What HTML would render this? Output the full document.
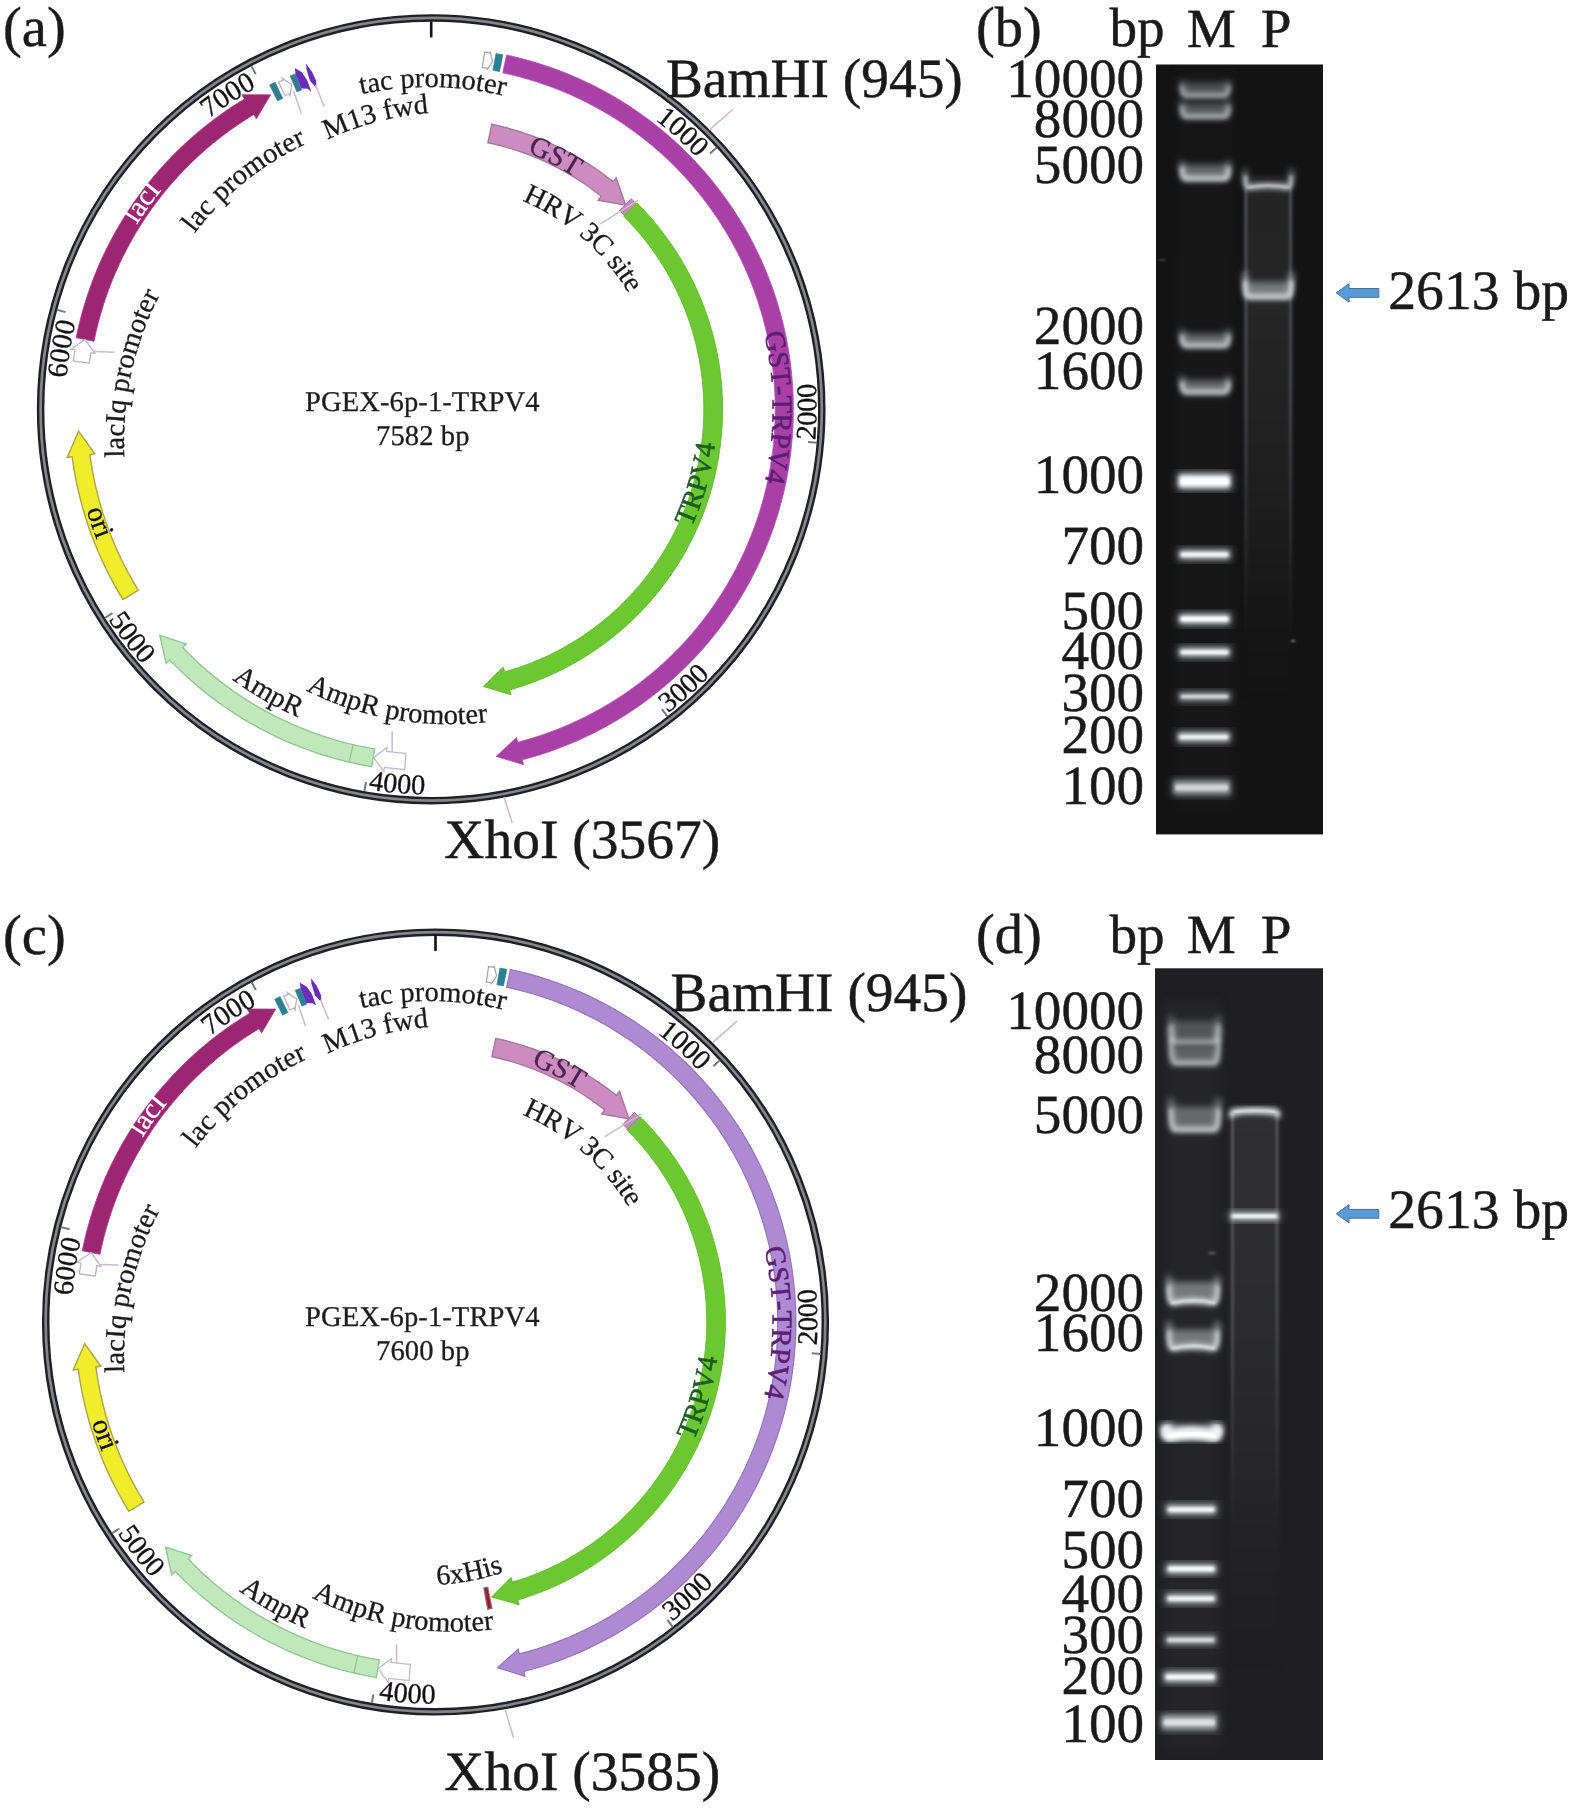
<!DOCTYPE html>
<html><head><meta charset="utf-8"><title>Figure</title>
<style>
html,body{margin:0;padding:0;background:#ffffff;}
body{width:1575px;height:1809px;overflow:hidden;}
svg{display:block;font-family:"Liberation Serif",serif;text-rendering:geometricPrecision;}
</style></head>
<body>
<svg width="1575" height="1809" viewBox="0 0 1575 1809">
<defs>
<filter color-interpolation-filters="sRGB" id="bl1" x="-20%" y="-50%" width="140%" height="200%"><feGaussianBlur stdDeviation="1.1"/></filter>
<filter color-interpolation-filters="sRGB" id="bl2" x="-20%" y="-100%" width="140%" height="300%"><feGaussianBlur stdDeviation="2"/></filter>
<filter color-interpolation-filters="sRGB" id="bl3" x="-20%" y="-100%" width="140%" height="300%"><feGaussianBlur stdDeviation="3"/></filter>
<filter color-interpolation-filters="sRGB" id="blS" x="-10%" y="-2%" width="120%" height="104%"><feGaussianBlur stdDeviation="2"/></filter>
<filter color-interpolation-filters="sRGB" id="blL" x="-200%" y="-2%" width="500%" height="104%"><feGaussianBlur stdDeviation="1.1"/></filter>
<filter color-interpolation-filters="sRGB" id="bl4" x="-30%" y="-5%" width="160%" height="110%"><feGaussianBlur stdDeviation="4.5"/></filter>
<linearGradient id="laneG" x1="0" y1="0" x2="0" y2="1">
<stop offset="0" stop-color="#a0a3a8" stop-opacity="0.34"/><stop offset="0.5" stop-color="#a0a3a8" stop-opacity="0.26"/><stop offset="1" stop-color="#a0a3a8" stop-opacity="0"/>
</linearGradient>
<linearGradient id="smearB" x1="0" y1="0" x2="0" y2="1">
<stop offset="0" stop-color="#232324"/><stop offset="0.03" stop-color="#242425"/><stop offset="0.25" stop-color="#262627"/><stop offset="0.6" stop-color="#1f1f20"/><stop offset="0.85" stop-color="#161616"/><stop offset="1" stop-color="#131313"/>
</linearGradient>
<linearGradient id="smearD" x1="0" y1="0" x2="0" y2="1">
<stop offset="0" stop-color="#2f2f31"/><stop offset="0.3" stop-color="#2d2d2f"/><stop offset="0.65" stop-color="#262628"/><stop offset="0.9" stop-color="#202022"/><stop offset="1" stop-color="#1f1f21"/>
</linearGradient>
<clipPath id="clipB"><rect x="1156" y="64.5" width="167" height="769.9"/></clipPath>
<clipPath id="clipD"><rect x="1155" y="968.3" width="168" height="791.7"/></clipPath>
</defs>
<rect x="0" y="0" width="1575" height="1809" fill="#ffffff"/>
<g opacity="0.999">
<g id="plasA"><ellipse cx="431.2" cy="409.3" rx="390.6" ry="391.38" fill="none" stroke="#202024" stroke-width="7.5"/>
<ellipse cx="431.2" cy="409.3" rx="390.6" ry="391.38" fill="none" stroke="#85868c" stroke-width="2.7"/>
<line x1="431.2" y1="21.45" x2="431.2" y2="37.45" stroke="#111" stroke-width="2.6" />
<line x1="716.7" y1="147.51" x2="710.06" y2="153.6" stroke="#77787c" stroke-width="2" />
<line x1="817.1" y1="442.8" x2="808.13" y2="442.02" stroke="#77787c" stroke-width="2" />
<line x1="667.31" y1="716.37" x2="661.83" y2="709.23" stroke="#77787c" stroke-width="2" />
<line x1="364.45" y1="790.85" x2="366" y2="781.99" stroke="#77787c" stroke-width="2" />
<line x1="104.86" y1="617.97" x2="112.44" y2="613.12" stroke="#77787c" stroke-width="2" />
<line x1="56.85" y1="309.8" x2="65.55" y2="312.11" stroke="#77787c" stroke-width="2" />
<line x1="251.54" y1="66.14" x2="255.71" y2="74.11" stroke="#77787c" stroke-width="2" />
<path d="M506.51 55.01 L515.69 57.09 L524.82 59.41 L533.88 61.96 L542.87 64.75 L551.79 67.77 L560.63 71.02 L569.38 74.49 L578.04 78.2 L586.59 82.13 L595.05 86.28 L603.39 90.65 L611.61 95.23 L619.72 100.03 L627.69 105.03 L635.53 110.24 L643.24 115.65 L650.8 121.26 L658.21 127.07 L665.47 133.07 L672.57 139.25 L679.51 145.62 L686.28 152.16 L692.88 158.88 L699.3 165.76 L705.54 172.82 L711.6 180.03 L717.46 187.39 L723.13 194.91 L728.61 202.57 L733.88 210.37 L738.95 218.31 L743.81 226.37 L748.46 234.56 L752.9 242.86 L757.11 251.28 L761.11 259.81 L764.89 268.43 L768.43 277.16 L771.76 285.97 L774.85 294.86 L777.7 303.83 L780.33 312.88 L782.72 321.98 L784.87 331.15 L786.78 340.37 L788.45 349.64 L789.88 358.94 L791.07 368.28 L792.01 377.65 L792.72 387.04 L793.17 396.45 L793.38 405.86 L793.35 415.28 L793.07 424.69 L792.55 434.09 L791.78 443.48 L790.77 452.84 L789.52 462.17 L788.03 471.47 L786.29 480.72 L784.31 489.93 L782.1 499.08 L779.64 508.17 L776.96 517.19 L774.04 526.14 L770.88 535.02 L767.5 543.8 L763.89 552.5 L760.05 561.1 L756 569.6 L751.72 577.99 L747.23 586.26 L742.52 594.42 L737.6 602.45 L732.48 610.35 L727.15 618.11 L721.62 625.73 L715.9 633.21 L709.98 640.53 L703.88 647.7 L697.59 654.71 L691.12 661.55 L684.47 668.22 L677.66 674.72 L670.68 681.04 L663.53 687.17 L656.23 693.11 L648.78 698.87 L641.18 704.43 L633.43 709.78 L625.55 714.94 L617.54 719.89 L609.41 724.63 L601.15 729.15 L592.78 733.46 L584.3 737.55 L575.71 741.42 L567.03 745.07 L558.26 748.48 L549.4 751.67 L540.46 754.63 L531.44 757.35 L522.36 759.84 L523.62 764.68 L496.07 756.39 L516.52 737.39 L517.78 742.23 L526.41 739.86 L534.97 737.28 L543.46 734.47 L551.87 731.44 L560.2 728.19 L568.45 724.73 L576.6 721.06 L584.66 717.17 L592.61 713.08 L600.45 708.78 L608.18 704.28 L615.79 699.58 L623.27 694.69 L630.62 689.6 L637.84 684.32 L644.92 678.85 L651.86 673.21 L658.64 667.38 L665.27 661.38 L671.75 655.21 L678.06 648.88 L684.2 642.38 L690.18 635.72 L695.97 628.91 L701.59 621.96 L707.03 614.86 L712.28 607.62 L717.34 600.24 L722.21 592.74 L726.88 585.11 L731.35 577.37 L735.62 569.51 L739.68 561.54 L743.53 553.47 L747.17 545.31 L750.6 537.05 L753.81 528.7 L756.81 520.27 L759.58 511.77 L762.14 503.2 L764.46 494.57 L766.57 485.88 L768.45 477.13 L770.1 468.34 L771.52 459.51 L772.71 450.65 L773.67 441.76 L774.39 432.85 L774.89 423.92 L775.15 414.98 L775.18 406.03 L774.98 397.09 L774.55 388.16 L773.88 379.24 L772.99 370.35 L771.86 361.47 L770.5 352.64 L768.91 343.83 L767.1 335.08 L765.05 326.37 L762.79 317.72 L760.29 309.13 L757.58 300.61 L754.64 292.16 L751.49 283.8 L748.12 275.51 L744.53 267.32 L740.74 259.22 L736.73 251.23 L732.52 243.34 L728.1 235.56 L723.49 227.9 L718.67 220.37 L713.66 212.96 L708.46 205.68 L703.08 198.54 L697.51 191.55 L691.76 184.7 L685.83 178 L679.73 171.46 L673.47 165.08 L667.04 158.87 L660.45 152.82 L653.7 146.95 L646.81 141.25 L639.77 135.74 L632.58 130.41 L625.27 125.27 L617.82 120.32 L610.24 115.57 L602.55 111.01 L594.74 106.66 L586.81 102.51 L578.79 98.57 L570.66 94.84 L562.44 91.32 L554.13 88.01 L545.73 84.93 L537.26 82.06 L528.72 79.41 L520.11 76.99 L511.44 74.79 L502.72 72.82Z" fill="#a840a8" stroke="#b455b4" stroke-width="0.8" stroke-linejoin="miter" />
<path d="M637.14 203.14 L642.44 208.57 L647.6 214.14 L652.61 219.85 L657.47 225.68 L662.17 231.63 L666.72 237.71 L671.11 243.9 L675.34 250.2 L679.4 256.62 L683.29 263.13 L687.01 269.75 L690.56 276.46 L693.93 283.26 L697.12 290.14 L700.14 297.11 L702.97 304.15 L705.62 311.27 L708.08 318.45 L710.35 325.69 L712.43 332.99 L714.32 340.34 L716.02 347.74 L717.53 355.18 L718.84 362.65 L719.96 370.16 L720.88 377.69 L721.61 385.25 L722.13 392.82 L722.46 400.4 L722.6 407.99 L722.53 415.58 L722.27 423.17 L721.81 430.75 L721.15 438.31 L720.3 445.85 L719.25 453.37 L718 460.85 L716.56 468.31 L714.93 475.72 L713.1 483.09 L711.09 490.4 L708.88 497.67 L706.48 504.87 L703.9 512.01 L701.13 519.07 L698.18 526.07 L695.05 532.98 L691.74 539.81 L688.25 546.55 L684.59 553.2 L680.76 559.75 L676.75 566.2 L672.58 572.54 L668.25 578.77 L663.75 584.89 L659.1 590.89 L654.3 596.76 L649.34 602.51 L644.23 608.13 L638.98 613.61 L633.59 618.95 L628.06 624.15 L622.4 629.2 L616.6 634.11 L610.69 638.86 L604.65 643.46 L598.49 647.9 L592.22 652.17 L585.84 656.28 L579.35 660.23 L572.77 664 L566.09 667.6 L559.31 671.03 L552.45 674.28 L545.51 677.34 L538.49 680.23 L531.4 682.93 L524.24 685.45 L517.01 687.78 L509.73 689.92 L511.08 694.73 L483.25 686.46 L503.32 667 L504.66 671.81 L511.48 669.81 L518.23 667.63 L524.93 665.28 L531.57 662.75 L538.13 660.05 L544.63 657.18 L551.05 654.14 L557.38 650.94 L563.63 647.57 L569.79 644.04 L575.86 640.35 L581.83 636.5 L587.7 632.5 L593.46 628.35 L599.11 624.05 L604.64 619.6 L610.06 615.02 L615.36 610.29 L620.53 605.42 L625.58 600.43 L630.49 595.3 L635.26 590.04 L639.9 584.67 L644.4 579.17 L648.75 573.56 L652.96 567.84 L657.01 562.01 L660.91 556.08 L664.66 550.05 L668.24 543.92 L671.67 537.7 L674.93 531.39 L678.03 525 L680.96 518.53 L683.72 511.99 L686.31 505.38 L688.72 498.7 L690.96 491.97 L693.03 485.17 L694.92 478.33 L696.62 471.43 L698.15 464.5 L699.5 457.53 L700.66 450.52 L701.65 443.49 L702.45 436.44 L703.06 429.36 L703.49 422.27 L703.74 415.18 L703.8 408.08 L703.67 400.98 L703.36 393.88 L702.87 386.8 L702.19 379.73 L701.33 372.69 L700.28 365.66 L699.06 358.67 L697.65 351.71 L696.06 344.79 L694.29 337.91 L692.34 331.08 L690.21 324.31 L687.91 317.59 L685.44 310.94 L682.79 304.35 L679.97 297.83 L676.98 291.39 L673.83 285.03 L670.51 278.75 L667.03 272.56 L663.38 266.47 L659.59 260.47 L655.63 254.57 L651.53 248.78 L647.27 243.09 L642.87 237.52 L638.32 232.07 L633.64 226.73 L628.81 221.52 L623.85 216.44Z" fill="#6cc831" stroke="#5db52a" stroke-width="0.8" stroke-linejoin="miter" />
<path d="M491.79 124.27 L499.12 125.93 L506.4 127.77 L513.64 129.8 L520.82 132.02 L527.94 134.43 L535 137.01 L541.99 139.78 L548.9 142.73 L555.74 145.85 L562.49 149.15 L569.16 152.62 L575.73 156.27 L582.21 160.08 L588.58 164.06 L594.86 168.2 L601.02 172.5 L607.07 176.96 L613.01 181.57 L616.13 177.66 L625.67 205.08 L598.16 200.17 L601.28 196.26 L595.73 191.95 L590.06 187.78 L584.3 183.75 L578.43 179.88 L572.46 176.16 L566.4 172.59 L560.25 169.18 L554.02 165.94 L547.7 162.85 L541.31 159.93 L534.84 157.17 L528.3 154.58 L521.7 152.16 L515.04 149.91 L508.32 147.84 L501.55 145.93 L494.73 144.21 L487.88 142.66Z" fill="#cd8cbf" stroke="#a5789f" stroke-width="1.4" stroke-linejoin="miter" />
<path d="M631.1 198.65 L633.66 201.11 L636.19 203.6 L624.33 215.5 L621.94 213.15 L619.53 210.84Z" fill="#c48cb8" stroke="#a5789f" stroke-width="1" stroke-linejoin="miter" />
<path d="M76.15 337.71 L78.12 328.52 L80.34 319.39 L82.79 310.32 L85.47 301.32 L88.39 292.39 L91.53 283.54 L94.91 274.77 L98.51 266.09 L102.34 257.51 L106.39 249.04 L110.65 240.66 L115.13 232.41 L119.83 224.27 L124.73 216.26 L129.84 208.37 L135.15 200.62 L140.67 193.02 L146.37 185.55 L152.27 178.24 L158.36 171.08 L164.63 164.09 L171.08 157.26 L177.7 150.6 L184.5 144.11 L191.46 137.8 L198.58 131.67 L205.86 125.73 L213.29 119.98 L220.87 114.43 L228.59 109.07 L236.44 103.92 L244.43 98.97 L241.85 94.69 L270.62 94.83 L256.39 118.85 L253.81 114.56 L246.23 119.26 L238.77 124.16 L231.44 129.25 L224.24 134.52 L217.18 139.98 L210.27 145.62 L203.51 151.44 L196.89 157.43 L190.44 163.59 L184.15 169.92 L178.02 176.41 L172.07 183.05 L166.29 189.85 L160.69 196.8 L155.26 203.88 L150.03 211.11 L144.98 218.47 L140.13 225.96 L135.47 233.57 L131.02 241.3 L126.76 249.14 L122.71 257.09 L118.86 265.14 L115.23 273.29 L111.81 281.53 L108.6 289.86 L105.61 298.26 L102.84 306.75 L100.29 315.3 L97.97 323.91 L95.86 332.58 L93.99 341.31Z" fill="#9c2672" stroke="#a83c82" stroke-width="0.8" stroke-linejoin="miter" />
<path d="M123.04 599.63 L118.41 591.92 L113.98 584.11 L109.74 576.19 L105.7 568.16 L101.86 560.04 L98.22 551.83 L94.79 543.53 L91.56 535.14 L88.55 526.68 L85.74 518.14 L83.15 509.54 L80.77 500.88 L78.61 492.16 L76.66 483.39 L74.93 474.57 L73.42 465.72 L72.13 456.83 L67.18 457.48 L78.63 431.17 L94.83 453.82 L89.88 454.48 L91.1 462.93 L92.54 471.35 L94.18 479.73 L96.03 488.07 L98.09 496.35 L100.35 504.59 L102.81 512.77 L105.48 520.88 L108.35 528.92 L111.41 536.89 L114.68 544.78 L118.14 552.59 L121.79 560.31 L125.63 567.94 L129.65 575.47 L133.87 582.9 L138.27 590.22Z" fill="#f0ee2b" stroke="#a9a54a" stroke-width="1.4" stroke-linejoin="miter" />
<path d="M371.73 766.58 L362.58 764.94 L353.48 763.06 L344.43 760.95 L335.43 758.61 L326.5 756.04 L317.64 753.24 L308.85 750.21 L300.14 746.96 L291.52 743.48 L282.99 739.79 L274.56 735.88 L266.23 731.75 L258.01 727.41 L249.91 722.86 L241.92 718.11 L234.06 713.15 L226.32 707.99 L218.73 702.63 L211.27 697.08 L203.96 691.35 L196.8 685.42 L189.79 679.32 L182.94 673.03 L176.25 666.58 L169.73 659.95 L166.13 663.41 L159.8 635.42 L186.27 644.1 L182.66 647.56 L188.85 653.86 L195.21 660 L201.72 665.97 L208.38 671.78 L215.19 677.41 L222.14 682.86 L229.23 688.14 L236.45 693.23 L243.8 698.13 L251.27 702.85 L258.86 707.37 L266.57 711.69 L274.38 715.81 L282.3 719.74 L290.32 723.46 L298.42 726.97 L306.62 730.27 L314.9 733.36 L323.25 736.24 L331.67 738.9 L340.17 741.35 L348.72 743.57 L357.32 745.58 L365.97 747.37 L374.67 748.93Z" fill="#c0e8ba" stroke="#93c795" stroke-width="1.4" stroke-linejoin="miter" />
<line x1="353.16" y1="744.64" x2="349.11" y2="762.07" stroke="#8cc48e" stroke-width="1.2" />
<path d="M404.75 769.53 L397.93 768.96 L391.13 768.27 L384.35 767.45 L383.83 771.41 L373.53 757.66 L386.97 747.42 L386.45 751.39 L392.93 752.17 L399.43 752.83 L405.93 753.37Z" fill="#ffffff" stroke="#c3b8c5" stroke-width="1.3" stroke-linejoin="miter" />
<path d="M73.26 360.9 L74.04 355.43 L74.9 349.98 L70.96 349.32 L85.07 339.51 L94.83 353.3 L90.88 352.64 L90.06 357.85 L89.31 363.07Z" fill="#ffffff" stroke="#b9b4bd" stroke-width="1.3" stroke-linejoin="miter" />
<path d="M484.59 52.07 L487.24 52.47 L489.89 52.9 L490.13 51.42 L492.56 61.32 L487.1 69.87 L487.34 68.39 L484.81 67.98 L482.27 67.6Z" fill="#ffffff" stroke="#aaa4b0" stroke-width="1.3" stroke-linejoin="miter" />
<path d="M495.87 53.43 L499.44 54.1 L503 54.8 L499.59 71.66 L496.2 70.99 L492.8 70.35Z" fill="#2f7f93" stroke="#3a8397" stroke-width="0.5" stroke-linejoin="miter" />
<path d="M269.45 84.89 L272.29 83.49 L275.14 82.11 L282.89 98.36 L280.18 99.67 L277.48 101Z" fill="#2f7f93" stroke="#3a8397" stroke-width="0.5" stroke-linejoin="miter" />
<path d="M278.63 82.12 L280.86 81.1 L283.09 80.08 L282.27 78.26 L291.66 84.51 L290.06 95.59 L289.24 93.76 L287.11 94.73 L284.97 95.72Z" fill="#ffffff" stroke="#bdb0be" stroke-width="1.3" stroke-linejoin="miter" />
<path d="M290.05 75.95 L292.67 74.86 L295.3 73.78 L301.87 90 L299.37 91.02 L296.87 92.07Z" fill="#2f7f93" stroke="#3a8397" stroke-width="0.5" stroke-linejoin="miter" />
<polygon points="301.31,88.61 295.67,74.7 294.72,68.08 301.83,72.28 307.06,79.92 311.3,91.14 307.54,88.83" fill="#6a2db8" stroke="none" stroke-width="0.5"/>
<polygon points="310.06,80.93 306.5,69.46 306.11,63.74 311.99,71.73 316.18,80.86 316.36,87.69" fill="#6a2db8" stroke="none" stroke-width="0.5"/>
<line x1="709.41" y1="129.82" x2="733.32" y2="108.96" stroke="#c9bbc9" stroke-width="1.5" />
<line x1="503.98" y1="796.88" x2="512.24" y2="822.94" stroke="#c9bbc9" stroke-width="1.5" />
<line x1="637.93" y1="200.4" x2="600.45" y2="223.95" stroke="#c9bbc9" stroke-width="1.5" />
<line x1="392.14" y1="752.08" x2="392.22" y2="731.45" stroke="#c9bbc9" stroke-width="1.5" />
<line x1="93.1" y1="351.51" x2="114.29" y2="352.28" stroke="#c9bbc9" stroke-width="1.5" />
<line x1="293.39" y1="90.84" x2="301.37" y2="113.54" stroke="#c9bbc9" stroke-width="1.5" />
<line x1="315.52" y1="85.33" x2="324.31" y2="106.62" stroke="#c9bbc9" stroke-width="1.5" />
<g font-size="28.5" fill="#111" stroke="#111" stroke-width="0.3" ><text transform="translate(660.6 124.11) rotate(38.81)" text-anchor="middle">1</text><text transform="translate(671.52 133.26) rotate(41.04)" text-anchor="middle">0</text><text transform="translate(682.09 142.82) rotate(43.27)" text-anchor="middle">0</text><text transform="translate(692.27 152.79) rotate(45.5)" text-anchor="middle">0</text></g>
<g font-size="28.5" fill="#111" stroke="#111" stroke-width="0.3" ><text transform="translate(815.77 433.03) rotate(273.53)" text-anchor="middle">2</text><text transform="translate(816.38 418.79) rotate(271.41)" text-anchor="middle">0</text><text transform="translate(816.47 404.54) rotate(269.29)" text-anchor="middle">0</text><text transform="translate(816.03 390.3) rotate(267.17)" text-anchor="middle">0</text></g>
<g font-size="28.5" fill="#111" stroke="#111" stroke-width="0.3" ><text transform="translate(673.62 708.78) rotate(321.01)" text-anchor="middle">3</text><text transform="translate(684.53 699.61) rotate(318.89)" text-anchor="middle">0</text><text transform="translate(695.09 690.05) rotate(316.77)" text-anchor="middle">0</text><text transform="translate(705.29 680.1) rotate(314.65)" text-anchor="middle">0</text></g>
<g font-size="28.5" fill="#111" stroke="#111" stroke-width="0.3" ><text transform="translate(375.29 790.52) rotate(368.34)" text-anchor="middle">4</text><text transform="translate(389.42 792.33) rotate(366.22)" text-anchor="middle">0</text><text transform="translate(403.62 793.61) rotate(364.11)" text-anchor="middle">0</text><text transform="translate(417.84 794.37) rotate(361.99)" text-anchor="middle">0</text></g>
<g font-size="28.5" fill="#111" stroke="#111" stroke-width="0.3" ><text transform="translate(112.15 625.32) rotate(415.9)" text-anchor="middle">5</text><text transform="translate(120.36 636.97) rotate(413.78)" text-anchor="middle">0</text><text transform="translate(128.99 648.31) rotate(411.66)" text-anchor="middle">0</text><text transform="translate(138.03 659.32) rotate(409.54)" text-anchor="middle">0</text></g>
<g font-size="28.5" fill="#111" stroke="#111" stroke-width="0.3" ><text transform="translate(67.19 371.16) rotate(275.98)" text-anchor="middle">6</text><text transform="translate(68.95 357.02) rotate(278.21)" text-anchor="middle">0</text><text transform="translate(71.26 342.96) rotate(280.44)" text-anchor="middle">0</text><text transform="translate(74.12 329) rotate(282.67)" text-anchor="middle">0</text></g>
<g font-size="28.5" fill="#111" stroke="#111" stroke-width="0.3" ><text transform="translate(214.51 114.34) rotate(323.7)" text-anchor="middle">7</text><text transform="translate(226.16 106.13) rotate(325.93)" text-anchor="middle">0</text><text transform="translate(238.11 98.38) rotate(328.16)" text-anchor="middle">0</text><text transform="translate(250.36 91.1) rotate(330.39)" text-anchor="middle">0</text></g>
<g font-size="28.5" fill="#5b1e73" stroke="#5b1e73"  stroke-width="0.6"><text transform="translate(766.2 343.01) rotate(78.81)" text-anchor="middle">G</text><text transform="translate(769.26 360.97) rotate(81.86)" text-anchor="middle">S</text><text transform="translate(771.21 377.48) rotate(84.65)" text-anchor="middle">T</text><text transform="translate(772.2 390.89) rotate(86.91)" text-anchor="middle">-</text><text transform="translate(772.66 404.33) rotate(89.17)" text-anchor="middle">T</text><text transform="translate(772.44 422.54) rotate(92.22)" text-anchor="middle">R</text><text transform="translate(771.32 439.93) rotate(95.15)" text-anchor="middle">P</text><text transform="translate(769.21 458.02) rotate(98.2)" text-anchor="middle">V</text><text transform="translate(766.28 475.19) rotate(101.12)" text-anchor="middle">4</text></g>
<g font-size="28.5" fill="#1f5c22" stroke="#1f5c22"  stroke-width="0.6"><text transform="translate(694.89 519.53) rotate(292.69)" text-anchor="middle">T</text><text transform="translate(701.37 502.51) rotate(289.04)" text-anchor="middle">R</text><text transform="translate(706.55 485.87) rotate(285.54)" text-anchor="middle">P</text><text transform="translate(710.87 468.18) rotate(281.89)" text-anchor="middle">V</text><text transform="translate(713.94 451.04) rotate(278.4)" text-anchor="middle">4</text></g>
<g font-size="28.5" fill="#ffffff" stroke="#ffffff" stroke-width="0.3" ><text transform="translate(138.88 221.4) rotate(302.73)" text-anchor="middle">l</text><text transform="translate(144.57 212.84) rotate(304.43)" text-anchor="middle">a</text><text transform="translate(151.91 202.53) rotate(306.51)" text-anchor="middle">c</text><text transform="translate(158.63 193.74) rotate(308.34)" text-anchor="middle">I</text></g>
<g font-size="28.5" fill="#111111" stroke="#111111" stroke-width="0.3" ><text transform="translate(88.65 516.72) rotate(432.59)" text-anchor="middle">o</text><text transform="translate(92.39 527.99) rotate(430.69)" text-anchor="middle">r</text><text transform="translate(95.36 536.17) rotate(429.31)" text-anchor="middle">i</text></g>
<g font-size="28.5" fill="#1a1a1a" stroke="#1a1a1a" stroke-width="0.3" ><text transform="translate(240.53 685.35) rotate(394.63)" text-anchor="middle">A</text><text transform="translate(258.49 696.93) rotate(390.98)" text-anchor="middle">m</text><text transform="translate(274.35 705.88) rotate(387.87)" text-anchor="middle">p</text><text transform="translate(289.24 713.28) rotate(385.03)" text-anchor="middle">R</text></g>
<text x="422.3" y="411" font-size="28.6" letter-spacing="0.08" text-anchor="middle" fill="#1c1c1c" stroke="#1c1c1c" stroke-width="0.3">PGEX-6p-1-TRPV4</text>
<text x="422.8" y="445" font-size="28.6" letter-spacing="0.08" text-anchor="middle" fill="#1c1c1c" stroke="#1c1c1c" stroke-width="0.3">7582 bp</text>
<g font-size="28.5" fill="#1a1a1a" stroke="#1a1a1a" stroke-width="0.3" ><text transform="translate(364.78 93.47) rotate(-11.52)" text-anchor="middle">t</text><text transform="translate(374.89 91.58) rotate(-9.69)" text-anchor="middle">a</text><text transform="translate(387.39 89.69) rotate(-7.44)" text-anchor="middle">c</text><text transform="translate(407.87 87.68) rotate(-3.78)" text-anchor="middle">p</text><text transform="translate(419.72 87.11) rotate(-1.67)" text-anchor="middle">r</text><text transform="translate(431.59 86.99) rotate(0.44)" text-anchor="middle">o</text><text transform="translate(449.79 87.64) rotate(3.68)" text-anchor="middle">m</text><text transform="translate(467.91 89.32) rotate(6.92)" text-anchor="middle">o</text><text transform="translate(478.89 90.85) rotate(8.89)" text-anchor="middle">t</text><text transform="translate(489.03 92.6) rotate(10.72)" text-anchor="middle">e</text><text transform="translate(499.87 94.85) rotate(12.69)" text-anchor="middle">r</text></g>
<g font-size="28.5" fill="#1a1a1a" stroke="#1a1a1a" stroke-width="0.3" ><text transform="translate(339.02 134.59) rotate(-22.46)" text-anchor="middle">M</text><text transform="translate(357.56 127.64) rotate(-18.62)" text-anchor="middle">1</text><text transform="translate(371.16 123.42) rotate(-15.87)" text-anchor="middle">3</text><text transform="translate(389.59 118.82) rotate(-12.19)" text-anchor="middle">f</text><text transform="translate(404.36 116.02) rotate(-9.28)" text-anchor="middle">w</text><text transform="translate(421.62 113.71) rotate(-5.91)" text-anchor="middle">d</text></g>
<g font-size="28.5" fill="#1a1a1a" stroke="#1a1a1a" stroke-width="0.3" ><text transform="translate(197.06 230.33) rotate(-51.94)" text-anchor="middle">l</text><text transform="translate(203.54 222.34) rotate(-49.96)" text-anchor="middle">a</text><text transform="translate(211.88 212.83) rotate(-47.52)" text-anchor="middle">c</text><text transform="translate(226.29 198.15) rotate(-43.55)" text-anchor="middle">p</text><text transform="translate(235.06 190.15) rotate(-41.26)" text-anchor="middle">r</text><text transform="translate(244.14 182.5) rotate(-38.97)" text-anchor="middle">o</text><text transform="translate(258.64 171.49) rotate(-35.45)" text-anchor="middle">m</text><text transform="translate(273.78 161.39) rotate(-31.94)" text-anchor="middle">o</text><text transform="translate(283.3 155.7) rotate(-29.8)" text-anchor="middle">t</text><text transform="translate(292.31 150.75) rotate(-27.82)" text-anchor="middle">e</text><text transform="translate(302.19 145.77) rotate(-25.68)" text-anchor="middle">r</text></g>
<g font-size="28.5" fill="#1a1a1a" stroke="#1a1a1a" stroke-width="0.3" ><text transform="translate(124.13 453.33) rotate(-92.04)" text-anchor="middle">l</text><text transform="translate(123.93 443.05) rotate(-90.2)" text-anchor="middle">a</text><text transform="translate(124.14 430.4) rotate(-87.93)" text-anchor="middle">c</text><text transform="translate(124.73 419.35) rotate(-85.95)" text-anchor="middle">I</text><text transform="translate(125.79 407.53) rotate(-83.82)" text-anchor="middle">q</text><text transform="translate(128.8 386.37) rotate(-80)" text-anchor="middle">p</text><text transform="translate(131.07 374.72) rotate(-77.87)" text-anchor="middle">r</text><text transform="translate(133.78 363.16) rotate(-75.75)" text-anchor="middle">o</text><text transform="translate(138.77 345.65) rotate(-72.49)" text-anchor="middle">m</text><text transform="translate(144.74 328.45) rotate(-69.22)" text-anchor="middle">o</text><text transform="translate(148.85 318.16) rotate(-67.24)" text-anchor="middle">t</text><text transform="translate(152.98 308.74) rotate(-65.4)" text-anchor="middle">e</text><text transform="translate(157.76 298.76) rotate(-63.42)" text-anchor="middle">r</text></g>
<g font-size="28.5" fill="#1a1a1a" stroke="#1a1a1a" stroke-width="0.3" ><text transform="translate(531.53 204.87) rotate(25.39)" text-anchor="middle">H</text><text transform="translate(548.72 213.96) rotate(30.35)" text-anchor="middle">R</text><text transform="translate(565.05 224.5) rotate(35.3)" text-anchor="middle">V</text><text transform="translate(583.75 239.28) rotate(41.37)" text-anchor="middle">3</text><text transform="translate(595.56 250.47) rotate(45.51)" text-anchor="middle">C</text><text transform="translate(609.86 266.48) rotate(50.98)" text-anchor="middle">s</text><text transform="translate(615.48 273.71) rotate(53.31)" text-anchor="middle">i</text><text transform="translate(619.9 279.86) rotate(55.24)" text-anchor="middle">t</text><text transform="translate(625.38 288.14) rotate(57.77)" text-anchor="middle">e</text></g>
<g font-size="28.5" fill="#4b2250" stroke="#4b2250" stroke-width="0.3" ><text transform="translate(536.57 156.51) rotate(23.69)" text-anchor="middle">G</text><text transform="translate(553 164.37) rotate(27.47)" text-anchor="middle">S</text><text transform="translate(567.52 172.48) rotate(30.92)" text-anchor="middle">T</text></g>
<g font-size="28.5" fill="#1a1a1a" stroke="#1a1a1a" stroke-width="0.3" ><text transform="translate(315.16 694.86) rotate(24.93)" text-anchor="middle">A</text><text transform="translate(334.83 703.21) rotate(21.06)" text-anchor="middle">m</text><text transform="translate(352 709.26) rotate(17.76)" text-anchor="middle">p</text><text transform="translate(367.97 713.91) rotate(14.74)" text-anchor="middle">R</text><text transform="translate(391.14 719.08) rotate(10.43)" text-anchor="middle">p</text><text transform="translate(402.86 721.01) rotate(8.28)" text-anchor="middle">r</text><text transform="translate(414.63 722.5) rotate(6.13)" text-anchor="middle">o</text><text transform="translate(432.78 723.92) rotate(2.83)" text-anchor="middle">m</text><text transform="translate(450.99 724.3) rotate(-0.48)" text-anchor="middle">o</text><text transform="translate(462.07 724.01) rotate(-2.48)" text-anchor="middle">t</text><text transform="translate(472.33 723.4) rotate(-4.35)" text-anchor="middle">e</text><text transform="translate(483.35 722.37) rotate(-6.36)" text-anchor="middle">r</text></g></g>
<g id="plasC"><ellipse cx="435.5" cy="1322" rx="389.8" ry="389.8" fill="none" stroke="#202024" stroke-width="7.5"/>
<ellipse cx="435.5" cy="1322" rx="389.8" ry="389.8" fill="none" stroke="#85868c" stroke-width="2.7"/>
<line x1="435.5" y1="934.95" x2="435.5" y2="950.95" stroke="#111" stroke-width="2.6" />
<line x1="719.89" y1="1060.2" x2="713.27" y2="1066.29" stroke="#77787c" stroke-width="2" />
<line x1="820.73" y1="1353.92" x2="811.76" y2="1353.18" stroke="#77787c" stroke-width="2" />
<line x1="672.92" y1="1627.04" x2="667.4" y2="1619.94" stroke="#77787c" stroke-width="2" />
<line x1="371.88" y1="1703.28" x2="373.36" y2="1694.4" stroke="#77787c" stroke-width="2" />
<line x1="111.89" y1="1533.42" x2="119.43" y2="1528.5" stroke="#77787c" stroke-width="2" />
<line x1="60.78" y1="1227.11" x2="69.5" y2="1229.32" stroke="#77787c" stroke-width="2" />
<line x1="251.52" y1="982.04" x2="255.81" y2="989.95" stroke="#77787c" stroke-width="2" />
<path d="M510.43 969.49 L519.59 971.56 L528.7 973.87 L537.74 976.42 L546.71 979.2 L555.61 982.21 L564.42 985.46 L573.15 988.93 L581.78 992.63 L590.32 996.56 L598.75 1000.7 L607.06 1005.07 L615.27 1009.65 L623.34 1014.44 L631.3 1019.44 L639.12 1024.64 L646.8 1030.05 L654.33 1035.66 L661.72 1041.46 L668.96 1047.45 L676.03 1053.63 L682.95 1059.99 L689.69 1066.53 L696.26 1073.24 L702.66 1080.12 L708.87 1087.16 L714.9 1094.37 L720.74 1101.73 L726.38 1109.23 L731.83 1116.89 L737.07 1124.68 L742.11 1132.61 L746.94 1140.66 L751.56 1148.84 L755.97 1157.14 L760.16 1165.55 L764.12 1174.06 L767.87 1182.68 L771.39 1191.38 L774.68 1200.18 L777.74 1209.06 L780.56 1218.02 L783.16 1227.05 L785.51 1236.14 L787.63 1245.3 L789.51 1254.5 L791.15 1263.75 L792.55 1273.04 L793.7 1282.36 L794.61 1291.71 L795.28 1301.08 L795.7 1310.46 L795.88 1319.85 L795.82 1329.25 L795.5 1338.64 L794.95 1348.01 L794.15 1357.37 L793.11 1366.71 L791.82 1376.01 L790.29 1385.28 L788.52 1394.5 L786.51 1403.68 L784.26 1412.8 L781.78 1421.86 L779.06 1430.85 L776.1 1439.77 L772.92 1448.6 L769.5 1457.36 L765.86 1466.01 L762 1474.58 L757.91 1483.03 L753.6 1491.38 L749.08 1499.61 L744.35 1507.73 L739.4 1515.71 L734.25 1523.57 L728.89 1531.29 L723.34 1538.86 L717.59 1546.29 L711.65 1553.56 L705.52 1560.68 L699.21 1567.64 L692.72 1574.43 L686.05 1581.05 L679.21 1587.49 L672.21 1593.75 L665.05 1599.83 L657.73 1605.72 L650.26 1611.41 L642.64 1616.91 L634.89 1622.21 L627 1627.3 L618.97 1632.19 L610.83 1636.87 L602.56 1641.33 L594.18 1645.57 L585.69 1649.6 L577.11 1653.4 L568.42 1656.98 L559.64 1660.33 L550.78 1663.45 L541.85 1666.34 L532.84 1669 L523.76 1671.41 L524.98 1676.26 L497.62 1667.8 L518.1 1649.01 L519.32 1653.86 L527.94 1651.56 L536.5 1649.04 L544.99 1646.29 L553.41 1643.33 L561.74 1640.15 L569.99 1636.75 L578.15 1633.14 L586.21 1629.32 L594.17 1625.28 L602.02 1621.04 L609.75 1616.6 L617.37 1611.96 L624.87 1607.12 L632.23 1602.09 L639.47 1596.87 L646.56 1591.46 L653.51 1585.87 L660.32 1580.1 L666.97 1574.15 L673.46 1568.03 L679.79 1561.74 L685.96 1555.3 L691.95 1548.69 L697.77 1541.93 L703.42 1535.02 L708.88 1527.96 L714.15 1520.77 L719.24 1513.44 L724.13 1505.98 L728.83 1498.39 L733.32 1490.69 L737.62 1482.87 L741.71 1474.94 L745.59 1466.91 L749.26 1458.78 L752.72 1450.55 L755.96 1442.24 L758.99 1433.85 L761.79 1425.38 L764.38 1416.84 L766.74 1408.24 L768.87 1399.58 L770.78 1390.86 L772.46 1382.1 L773.91 1373.3 L775.14 1364.46 L776.13 1355.59 L776.89 1346.7 L777.42 1337.8 L777.71 1328.88 L777.77 1319.96 L777.6 1311.04 L777.2 1302.13 L776.57 1293.23 L775.7 1284.35 L774.61 1275.5 L773.28 1266.68 L771.72 1257.89 L769.94 1249.15 L767.93 1240.46 L765.69 1231.82 L763.22 1223.25 L760.54 1214.74 L757.63 1206.3 L754.51 1197.95 L751.17 1189.68 L747.61 1181.49 L743.84 1173.41 L739.87 1165.42 L735.68 1157.54 L731.29 1149.77 L726.7 1142.12 L721.92 1134.6 L716.94 1127.19 L711.76 1119.93 L706.4 1112.79 L700.86 1105.81 L695.13 1098.96 L689.23 1092.27 L683.16 1085.74 L676.92 1079.36 L670.51 1073.15 L663.95 1067.11 L657.23 1061.25 L650.35 1055.55 L643.34 1050.05 L636.18 1044.72 L628.88 1039.59 L621.46 1034.64 L613.91 1029.89 L606.23 1025.34 L598.44 1020.99 L590.54 1016.85 L582.54 1012.91 L574.43 1009.18 L566.23 1005.67 L557.94 1002.37 L549.57 999.29 L541.12 996.42 L532.6 993.78 L524.01 991.36 L515.37 989.17 L506.66 987.2Z" fill="#ae8ad2" stroke="#9474bd" stroke-width="1.2" stroke-linejoin="miter" />
<path d="M640.03 1116.49 L645.28 1121.85 L650.39 1127.35 L655.36 1132.98 L660.17 1138.73 L664.84 1144.6 L669.36 1150.6 L673.71 1156.71 L677.91 1162.93 L681.95 1169.26 L685.82 1175.69 L689.52 1182.21 L693.05 1188.83 L696.41 1195.54 L699.6 1202.34 L702.61 1209.21 L705.44 1216.16 L708.08 1223.19 L710.55 1230.27 L712.83 1237.42 L714.93 1244.63 L716.84 1251.89 L718.56 1259.19 L720.09 1266.54 L721.43 1273.92 L722.58 1281.34 L723.53 1288.78 L724.3 1296.24 L724.87 1303.73 L725.24 1311.22 L725.42 1318.72 L725.41 1326.23 L725.21 1333.73 L724.81 1341.22 L724.21 1348.7 L723.42 1356.17 L722.44 1363.61 L721.27 1371.02 L719.9 1378.4 L718.35 1385.74 L716.61 1393.04 L714.67 1400.29 L712.55 1407.49 L710.25 1414.63 L707.76 1421.71 L705.09 1428.72 L702.23 1435.66 L699.2 1442.53 L696 1449.31 L692.61 1456.01 L689.06 1462.62 L685.34 1469.14 L681.44 1475.55 L677.39 1481.87 L673.17 1488.07 L668.79 1494.17 L664.26 1500.15 L659.57 1506.01 L654.73 1511.75 L649.75 1517.36 L644.62 1522.84 L639.35 1528.18 L633.95 1533.39 L628.41 1538.45 L622.75 1543.37 L616.95 1548.14 L611.04 1552.76 L605.01 1557.23 L598.87 1561.54 L592.61 1565.69 L586.25 1569.67 L579.79 1573.49 L573.23 1577.14 L566.59 1580.62 L559.85 1583.92 L553.03 1587.05 L546.13 1590.01 L539.16 1592.78 L532.11 1595.37 L525.01 1597.78 L517.84 1600.01 L519.26 1604.8 L491.44 1596.96 L511.11 1577.28 L512.53 1582.07 L519.23 1579.99 L525.88 1577.74 L532.47 1575.31 L538.99 1572.72 L545.45 1569.95 L551.83 1567.03 L558.13 1563.93 L564.35 1560.68 L570.48 1557.26 L576.53 1553.69 L582.47 1549.96 L588.33 1546.08 L594.07 1542.05 L599.72 1537.88 L605.25 1533.55 L610.67 1529.09 L615.97 1524.49 L621.15 1519.75 L626.2 1514.88 L631.13 1509.88 L635.93 1504.75 L640.59 1499.5 L645.11 1494.14 L649.5 1488.66 L653.74 1483.06 L657.84 1477.36 L661.78 1471.55 L665.58 1465.65 L669.22 1459.64 L672.7 1453.55 L676.03 1447.37 L679.19 1441.1 L682.19 1434.75 L685.03 1428.33 L687.69 1421.84 L690.19 1415.28 L692.52 1408.65 L694.68 1401.97 L696.66 1395.24 L698.47 1388.46 L700.1 1381.63 L701.56 1374.76 L702.83 1367.86 L703.93 1360.92 L704.85 1353.96 L705.58 1346.98 L706.14 1339.98 L706.51 1332.97 L706.71 1325.96 L706.72 1318.94 L706.55 1311.92 L706.2 1304.91 L705.66 1297.91 L704.95 1290.92 L704.06 1283.96 L702.98 1277.02 L701.73 1270.11 L700.3 1263.24 L698.69 1256.41 L696.9 1249.62 L694.94 1242.88 L692.81 1236.19 L690.5 1229.56 L688.02 1222.99 L685.37 1216.49 L682.56 1210.06 L679.58 1203.7 L676.44 1197.42 L673.13 1191.23 L669.67 1185.12 L666.05 1179.11 L662.27 1173.19 L658.34 1167.37 L654.27 1161.66 L650.05 1156.05 L645.68 1150.55 L641.17 1145.17 L636.53 1139.91 L631.75 1134.77 L626.83 1129.75Z" fill="#6cc831" stroke="#5db52a" stroke-width="0.8" stroke-linejoin="miter" />
<path d="M491.96 1608.43 L489.83 1608.84 L487.7 1609.24 L483.82 1587.88 L485.79 1587.52 L487.76 1587.14Z" fill="#9b1c2a" stroke="#8a7078" stroke-width="1.2" stroke-linejoin="miter" />
<path d="M495.78 1038.39 L503.08 1040.04 L510.33 1041.88 L517.53 1043.9 L524.67 1046.11 L531.76 1048.5 L538.78 1051.07 L545.73 1053.83 L552.61 1056.76 L559.41 1059.87 L566.13 1063.15 L572.77 1066.61 L579.31 1070.23 L585.75 1074.03 L592.1 1077.98 L598.34 1082.1 L604.47 1086.38 L610.49 1090.82 L616.4 1095.41 L619.52 1091.5 L629 1118.8 L601.61 1113.94 L604.73 1110.03 L599.2 1105.73 L593.57 1101.58 L587.83 1097.58 L581.99 1093.73 L576.06 1090.02 L570.03 1086.48 L563.91 1083.08 L557.71 1079.85 L551.42 1076.78 L545.06 1073.87 L538.62 1071.13 L532.12 1068.55 L525.55 1066.15 L518.92 1063.91 L512.23 1061.84 L505.5 1059.95 L498.72 1058.23 L491.89 1056.69Z" fill="#cd8cbf" stroke="#a5789f" stroke-width="1.4" stroke-linejoin="miter" />
<path d="M634.4 1112.41 L636.94 1114.85 L639.46 1117.33 L627.66 1129.16 L625.29 1126.83 L622.9 1124.53Z" fill="#c48cb8" stroke="#a5789f" stroke-width="1" stroke-linejoin="miter" />
<path d="M82.22 1250.77 L84.19 1241.63 L86.39 1232.54 L88.83 1223.52 L91.5 1214.56 L94.4 1205.67 L97.53 1196.87 L100.89 1188.14 L104.48 1179.51 L108.28 1170.97 L112.31 1162.54 L116.55 1154.21 L121.01 1145.99 L125.68 1137.89 L130.56 1129.92 L135.65 1122.08 L140.93 1114.37 L146.42 1106.8 L152.1 1099.37 L157.97 1092.1 L164.02 1084.98 L170.26 1078.01 L176.68 1071.22 L183.27 1064.59 L190.03 1058.13 L196.96 1051.86 L204.04 1045.76 L211.29 1039.85 L218.68 1034.13 L226.22 1028.6 L233.9 1023.27 L241.72 1018.15 L249.66 1013.22 L247.08 1008.94 L275.72 1009.1 L261.58 1033.02 L259 1028.74 L251.45 1033.41 L244.03 1038.28 L236.74 1043.35 L229.58 1048.59 L222.55 1054.03 L215.67 1059.64 L208.94 1065.43 L202.37 1071.39 L195.94 1077.52 L189.68 1083.82 L183.59 1090.27 L177.66 1096.89 L171.91 1103.65 L166.34 1110.56 L160.94 1117.61 L155.74 1124.8 L150.72 1132.12 L145.89 1139.57 L141.25 1147.15 L136.82 1154.84 L132.58 1162.64 L128.55 1170.55 L124.73 1178.56 L121.11 1186.67 L117.71 1194.87 L114.51 1203.15 L111.54 1211.52 L108.78 1219.96 L106.25 1228.47 L103.93 1237.04 L101.84 1245.67 L99.97 1254.35Z" fill="#9c2672" stroke="#a83c82" stroke-width="0.8" stroke-linejoin="miter" />
<path d="M128.88 1511.37 L124.27 1503.71 L119.86 1495.94 L115.65 1488.05 L111.63 1480.07 L107.81 1471.99 L104.19 1463.82 L100.77 1455.56 L97.56 1447.21 L94.56 1438.79 L91.77 1430.3 L89.19 1421.74 L86.82 1413.12 L84.67 1404.45 L82.73 1395.72 L81.01 1386.95 L79.51 1378.14 L78.23 1369.29 L73.27 1369.95 L84.69 1343.76 L100.84 1366.3 L95.88 1366.95 L97.1 1375.36 L98.53 1383.74 L100.16 1392.08 L102.01 1400.37 L104.05 1408.62 L106.3 1416.81 L108.75 1424.95 L111.41 1433.02 L114.26 1441.02 L117.31 1448.96 L120.56 1456.81 L124 1464.58 L127.63 1472.26 L131.45 1479.85 L135.46 1487.34 L139.65 1494.73 L144.03 1502.02Z" fill="#f0ee2b" stroke="#a9a54a" stroke-width="1.4" stroke-linejoin="miter" />
<path d="M376.33 1677.5 L367.23 1675.86 L358.17 1673.99 L349.16 1671.89 L340.21 1669.56 L331.32 1667 L322.51 1664.22 L313.76 1661.2 L305.1 1657.97 L296.52 1654.51 L288.03 1650.84 L279.64 1646.94 L271.36 1642.84 L263.18 1638.52 L255.11 1633.99 L247.17 1629.26 L239.34 1624.33 L231.65 1619.2 L224.09 1613.87 L216.67 1608.35 L209.39 1602.64 L202.27 1596.74 L195.29 1590.67 L188.48 1584.41 L181.83 1577.99 L175.34 1571.4 L171.73 1574.86 L165.46 1546.99 L191.81 1555.61 L188.2 1559.07 L194.36 1565.34 L200.69 1571.45 L207.16 1577.39 L213.79 1583.17 L220.57 1588.77 L227.48 1594.2 L234.54 1599.44 L241.72 1604.51 L249.04 1609.39 L256.47 1614.08 L264.03 1618.58 L271.69 1622.88 L279.47 1626.98 L287.34 1630.89 L295.32 1634.59 L303.39 1638.08 L311.54 1641.37 L319.78 1644.44 L328.09 1647.31 L336.47 1649.96 L344.92 1652.39 L353.43 1654.6 L361.99 1656.6 L370.6 1658.38 L379.25 1659.93Z" fill="#c0e8ba" stroke="#93c795" stroke-width="1.4" stroke-linejoin="miter" />
<line x1="357.85" y1="1655.66" x2="353.82" y2="1673.01" stroke="#8cc48e" stroke-width="1.2" />
<path d="M409.18 1680.42 L402.4 1679.86 L395.64 1679.17 L388.88 1678.35 L388.36 1682.32 L378.12 1668.62 L391.49 1658.41 L390.97 1662.38 L397.42 1663.16 L403.88 1663.82 L410.36 1664.36Z" fill="#ffffff" stroke="#c3b8c5" stroke-width="1.3" stroke-linejoin="miter" />
<path d="M79.35 1273.85 L80.13 1268.4 L80.99 1262.98 L77.05 1262.32 L91.1 1252.56 L100.83 1266.28 L96.88 1265.62 L96.06 1270.81 L95.32 1276.01Z" fill="#ffffff" stroke="#b9b4bd" stroke-width="1.3" stroke-linejoin="miter" />
<path d="M488.62 966.56 L491.26 966.96 L493.9 967.39 L494.14 965.91 L496.55 975.76 L491.12 984.27 L491.36 982.79 L488.84 982.38 L486.31 982Z" fill="#ffffff" stroke="#aaa4b0" stroke-width="1.3" stroke-linejoin="miter" />
<path d="M499.85 967.91 L503.4 968.57 L506.94 969.27 L503.55 986.04 L500.17 985.38 L496.79 984.74Z" fill="#2f7f93" stroke="#3a8397" stroke-width="0.5" stroke-linejoin="miter" />
<path d="M274.56 999.21 L277.39 997.82 L280.22 996.45 L287.93 1012.61 L285.24 1013.91 L282.55 1015.24Z" fill="#2f7f93" stroke="#3a8397" stroke-width="0.5" stroke-linejoin="miter" />
<path d="M283.7 996.46 L285.91 995.44 L288.13 994.43 L287.31 992.6 L296.66 998.83 L295.07 1009.86 L294.25 1008.04 L292.13 1009.01 L290.01 1009.99Z" fill="#ffffff" stroke="#bdb0be" stroke-width="1.3" stroke-linejoin="miter" />
<path d="M295.05 990.32 L297.66 989.23 L300.28 988.16 L306.82 1004.29 L304.32 1005.31 L301.84 1006.35Z" fill="#2f7f93" stroke="#3a8397" stroke-width="0.5" stroke-linejoin="miter" />
<polygon points="306.26,1002.91 300.65,989.08 299.7,982.49 306.78,986.66 311.98,994.26 316.2,1005.44 312.46,1003.13" fill="#6a2db8" stroke="none" stroke-width="0.5"/>
<polygon points="314.96,995.27 311.42,983.86 311.04,978.17 316.89,986.12 321.06,995.2 321.24,1002" fill="#6a2db8" stroke="none" stroke-width="0.5"/>
<line x1="712.63" y1="1042.57" x2="737.06" y2="1021.1" stroke="#c9bbc9" stroke-width="1.5" />
<line x1="505.08" y1="1709.35" x2="513.56" y2="1737.74" stroke="#c9bbc9" stroke-width="1.5" />
<line x1="641.2" y1="1114.13" x2="604.75" y2="1136.65" stroke="#c9bbc9" stroke-width="1.5" />
<line x1="396.64" y1="1663.07" x2="396.52" y2="1644.15" stroke="#c9bbc9" stroke-width="1.5" />
<line x1="99.1" y1="1264.5" x2="118.59" y2="1264.98" stroke="#c9bbc9" stroke-width="1.5" />
<line x1="298.37" y1="1005.12" x2="305.67" y2="1026.24" stroke="#c9bbc9" stroke-width="1.5" />
<line x1="320.4" y1="999.65" x2="328.61" y2="1019.32" stroke="#c9bbc9" stroke-width="1.5" />
<g font-size="28.5" fill="#111" stroke="#111" stroke-width="0.3" ><text transform="translate(662.85 1037.73) rotate(38.65)" text-anchor="middle">1</text><text transform="translate(673.8 1046.85) rotate(40.9)" text-anchor="middle">0</text><text transform="translate(684.39 1056.39) rotate(43.14)" text-anchor="middle">0</text><text transform="translate(694.59 1066.33) rotate(45.38)" text-anchor="middle">0</text></g>
<g font-size="28.5" fill="#111" stroke="#111" stroke-width="0.3" ><text transform="translate(816.95 1338.43) rotate(272.47)" text-anchor="middle">2</text><text transform="translate(817.29 1324.19) rotate(270.33)" text-anchor="middle">0</text><text transform="translate(817.11 1309.94) rotate(268.19)" text-anchor="middle">0</text><text transform="translate(816.39 1295.71) rotate(266.05)" text-anchor="middle">0</text></g>
<g font-size="28.5" fill="#111" stroke="#111" stroke-width="0.3" ><text transform="translate(677.53 1617.29) rotate(320.66)" text-anchor="middle">3</text><text transform="translate(688.38 1608.05) rotate(318.52)" text-anchor="middle">0</text><text transform="translate(698.87 1598.41) rotate(316.38)" text-anchor="middle">0</text><text transform="translate(709.01 1588.39) rotate(314.25)" text-anchor="middle">0</text></g>
<g font-size="28.5" fill="#111" stroke="#111" stroke-width="0.3" ><text transform="translate(385.64 1700.53) rotate(367.5)" text-anchor="middle">4</text><text transform="translate(399.8 1702.13) rotate(365.37)" text-anchor="middle">0</text><text transform="translate(414.01 1703.19) rotate(363.23)" text-anchor="middle">0</text><text transform="translate(428.25 1703.73) rotate(361.09)" text-anchor="middle">0</text></g>
<g font-size="28.5" fill="#111" stroke="#111" stroke-width="0.3" ><text transform="translate(121.52 1539.23) rotate(415.32)" text-anchor="middle">5</text><text transform="translate(129.84 1550.79) rotate(413.18)" text-anchor="middle">0</text><text transform="translate(138.59 1562.04) rotate(411.05)" text-anchor="middle">0</text><text transform="translate(147.76 1572.95) rotate(408.91)" text-anchor="middle">0</text></g>
<g font-size="28.5" fill="#111" stroke="#111" stroke-width="0.3" ><text transform="translate(73.03 1288.64) rotate(275.26)" text-anchor="middle">6</text><text transform="translate(74.61 1274.48) rotate(277.5)" text-anchor="middle">0</text><text transform="translate(76.75 1260.39) rotate(279.74)" text-anchor="middle">0</text><text transform="translate(79.44 1246.4) rotate(281.99)" text-anchor="middle">0</text></g>
<g font-size="28.5" fill="#111" stroke="#111" stroke-width="0.3" ><text transform="translate(215.74 1031.82) rotate(322.86)" text-anchor="middle">7</text><text transform="translate(227.27 1023.44) rotate(325.11)" text-anchor="middle">0</text><text transform="translate(239.11 1015.52) rotate(327.35)" text-anchor="middle">0</text><text transform="translate(251.26 1008.07) rotate(329.59)" text-anchor="middle">0</text></g>
<g font-size="28.5" fill="#5b1e73" stroke="#5b1e73"  stroke-width="0.6"><text transform="translate(766.38 1258.05) rotate(79.06)" text-anchor="middle">G</text><text transform="translate(769.35 1276.02) rotate(82.16)" text-anchor="middle">S</text><text transform="translate(771.21 1292.55) rotate(84.99)" text-anchor="middle">T</text><text transform="translate(772.12 1305.96) rotate(87.27)" text-anchor="middle">-</text><text transform="translate(772.49 1319.41) rotate(89.56)" text-anchor="middle">T</text><text transform="translate(772.14 1337.61) rotate(92.66)" text-anchor="middle">R</text><text transform="translate(770.88 1354.99) rotate(95.62)" text-anchor="middle">P</text><text transform="translate(768.61 1373.07) rotate(98.72)" text-anchor="middle">V</text><text transform="translate(765.53 1390.21) rotate(101.68)" text-anchor="middle">4</text></g>
<g font-size="28.5" fill="#1f5c22" stroke="#1f5c22"  stroke-width="0.6"><text transform="translate(696.87 1433.1) rotate(293.03)" text-anchor="middle">T</text><text transform="translate(703.45 1416.13) rotate(289.36)" text-anchor="middle">R</text><text transform="translate(708.72 1399.52) rotate(285.84)" text-anchor="middle">P</text><text transform="translate(713.12 1381.85) rotate(282.16)" text-anchor="middle">V</text><text transform="translate(716.27 1364.72) rotate(278.65)" text-anchor="middle">4</text></g>
<g font-size="28.5" fill="#ffffff" stroke="#ffffff" stroke-width="0.3" ><text transform="translate(144.73 1134.47) rotate(302.82)" text-anchor="middle">l</text><text transform="translate(150.43 1125.91) rotate(304.52)" text-anchor="middle">a</text><text transform="translate(157.79 1115.62) rotate(306.62)" text-anchor="middle">c</text><text transform="translate(164.53 1106.84) rotate(308.45)" text-anchor="middle">I</text></g>
<g font-size="28.5" fill="#111111" stroke="#111111" stroke-width="0.3" ><text transform="translate(93.89 1429.1) rotate(432.59)" text-anchor="middle">o</text><text transform="translate(97.63 1440.36) rotate(430.69)" text-anchor="middle">r</text><text transform="translate(100.61 1448.54) rotate(429.3)" text-anchor="middle">i</text></g>
<g font-size="28.5" fill="#1a1a1a" stroke="#1a1a1a" stroke-width="0.3" ><text transform="translate(247.52 1596.87) rotate(394.37)" text-anchor="middle">A</text><text transform="translate(265.54 1608.36) rotate(390.69)" text-anchor="middle">m</text><text transform="translate(281.44 1617.22) rotate(387.56)" text-anchor="middle">p</text><text transform="translate(296.37 1624.54) rotate(384.7)" text-anchor="middle">R</text></g>
<text x="422.3" y="1326" font-size="28.6" letter-spacing="0.08" text-anchor="middle" fill="#1c1c1c" stroke="#1c1c1c" stroke-width="0.3">PGEX-6p-1-TRPV4</text>
<text x="422.8" y="1360" font-size="28.6" letter-spacing="0.08" text-anchor="middle" fill="#1c1c1c" stroke="#1c1c1c" stroke-width="0.3">7600 bp</text>
<g font-size="28.5" fill="#1a1a1a" stroke="#1a1a1a" stroke-width="0.3" ><text transform="translate(364.78 1007.47) rotate(-11.52)" text-anchor="middle">t</text><text transform="translate(374.89 1005.58) rotate(-9.69)" text-anchor="middle">a</text><text transform="translate(387.39 1003.69) rotate(-7.44)" text-anchor="middle">c</text><text transform="translate(407.87 1001.68) rotate(-3.78)" text-anchor="middle">p</text><text transform="translate(419.72 1001.11) rotate(-1.67)" text-anchor="middle">r</text><text transform="translate(431.59 1000.99) rotate(0.44)" text-anchor="middle">o</text><text transform="translate(449.79 1001.64) rotate(3.68)" text-anchor="middle">m</text><text transform="translate(467.91 1003.32) rotate(6.92)" text-anchor="middle">o</text><text transform="translate(478.89 1004.85) rotate(8.89)" text-anchor="middle">t</text><text transform="translate(489.03 1006.6) rotate(10.72)" text-anchor="middle">e</text><text transform="translate(499.87 1008.85) rotate(12.69)" text-anchor="middle">r</text></g>
<g font-size="28.5" fill="#1a1a1a" stroke="#1a1a1a" stroke-width="0.3" ><text transform="translate(339.02 1048.59) rotate(-22.46)" text-anchor="middle">M</text><text transform="translate(357.56 1041.64) rotate(-18.62)" text-anchor="middle">1</text><text transform="translate(371.16 1037.42) rotate(-15.87)" text-anchor="middle">3</text><text transform="translate(389.59 1032.82) rotate(-12.19)" text-anchor="middle">f</text><text transform="translate(404.36 1030.02) rotate(-9.28)" text-anchor="middle">w</text><text transform="translate(421.62 1027.71) rotate(-5.91)" text-anchor="middle">d</text></g>
<g font-size="28.5" fill="#1a1a1a" stroke="#1a1a1a" stroke-width="0.3" ><text transform="translate(198.06 1145.33) rotate(-51.94)" text-anchor="middle">l</text><text transform="translate(204.54 1137.34) rotate(-49.96)" text-anchor="middle">a</text><text transform="translate(212.88 1127.83) rotate(-47.52)" text-anchor="middle">c</text><text transform="translate(227.29 1113.15) rotate(-43.55)" text-anchor="middle">p</text><text transform="translate(236.06 1105.15) rotate(-41.26)" text-anchor="middle">r</text><text transform="translate(245.14 1097.5) rotate(-38.97)" text-anchor="middle">o</text><text transform="translate(259.64 1086.49) rotate(-35.45)" text-anchor="middle">m</text><text transform="translate(274.78 1076.39) rotate(-31.94)" text-anchor="middle">o</text><text transform="translate(284.3 1070.7) rotate(-29.8)" text-anchor="middle">t</text><text transform="translate(293.31 1065.75) rotate(-27.82)" text-anchor="middle">e</text><text transform="translate(303.19 1060.77) rotate(-25.68)" text-anchor="middle">r</text></g>
<g font-size="28.5" fill="#1a1a1a" stroke="#1a1a1a" stroke-width="0.3" ><text transform="translate(124.13 1368.53) rotate(-92.04)" text-anchor="middle">l</text><text transform="translate(123.93 1358.25) rotate(-90.2)" text-anchor="middle">a</text><text transform="translate(124.14 1345.6) rotate(-87.93)" text-anchor="middle">c</text><text transform="translate(124.73 1334.55) rotate(-85.95)" text-anchor="middle">I</text><text transform="translate(125.79 1322.73) rotate(-83.82)" text-anchor="middle">q</text><text transform="translate(128.8 1301.57) rotate(-80)" text-anchor="middle">p</text><text transform="translate(131.07 1289.92) rotate(-77.87)" text-anchor="middle">r</text><text transform="translate(133.78 1278.36) rotate(-75.75)" text-anchor="middle">o</text><text transform="translate(138.77 1260.85) rotate(-72.49)" text-anchor="middle">m</text><text transform="translate(144.74 1243.65) rotate(-69.22)" text-anchor="middle">o</text><text transform="translate(148.85 1233.36) rotate(-67.24)" text-anchor="middle">t</text><text transform="translate(152.98 1223.94) rotate(-65.4)" text-anchor="middle">e</text><text transform="translate(157.76 1213.96) rotate(-63.42)" text-anchor="middle">r</text></g>
<g font-size="28.5" fill="#1a1a1a" stroke="#1a1a1a" stroke-width="0.3" ><text transform="translate(531.53 1118.87) rotate(25.39)" text-anchor="middle">H</text><text transform="translate(548.72 1127.96) rotate(30.35)" text-anchor="middle">R</text><text transform="translate(565.05 1138.5) rotate(35.3)" text-anchor="middle">V</text><text transform="translate(583.75 1153.28) rotate(41.37)" text-anchor="middle">3</text><text transform="translate(595.56 1164.47) rotate(45.51)" text-anchor="middle">C</text><text transform="translate(609.86 1180.48) rotate(50.98)" text-anchor="middle">s</text><text transform="translate(615.48 1187.71) rotate(53.31)" text-anchor="middle">i</text><text transform="translate(619.9 1193.86) rotate(55.24)" text-anchor="middle">t</text><text transform="translate(625.38 1202.14) rotate(57.77)" text-anchor="middle">e</text></g>
<g font-size="28.5" fill="#4b2250" stroke="#4b2250" stroke-width="0.3" ><text transform="translate(540.57 1068.91) rotate(23.69)" text-anchor="middle">G</text><text transform="translate(557 1076.77) rotate(27.47)" text-anchor="middle">S</text><text transform="translate(571.52 1084.88) rotate(30.92)" text-anchor="middle">T</text></g>
<g font-size="28.5" fill="#1a1a1a" stroke="#1a1a1a" stroke-width="0.3" ><text transform="translate(321.16 1602.16) rotate(24.93)" text-anchor="middle">A</text><text transform="translate(340.83 1610.51) rotate(21.06)" text-anchor="middle">m</text><text transform="translate(358 1616.56) rotate(17.76)" text-anchor="middle">p</text><text transform="translate(373.97 1621.21) rotate(14.74)" text-anchor="middle">R</text><text transform="translate(397.14 1626.38) rotate(10.43)" text-anchor="middle">p</text><text transform="translate(408.86 1628.31) rotate(8.28)" text-anchor="middle">r</text><text transform="translate(420.63 1629.8) rotate(6.13)" text-anchor="middle">o</text><text transform="translate(438.78 1631.22) rotate(2.83)" text-anchor="middle">m</text><text transform="translate(456.99 1631.6) rotate(-0.48)" text-anchor="middle">o</text><text transform="translate(468.07 1631.31) rotate(-2.48)" text-anchor="middle">t</text><text transform="translate(478.33 1630.7) rotate(-4.35)" text-anchor="middle">e</text><text transform="translate(489.35 1629.67) rotate(-6.36)" text-anchor="middle">r</text></g>
<g font-size="28.5" fill="#1a1a1a" stroke="#1a1a1a" stroke-width="0.3" ><text transform="translate(444 1584.41) rotate(355.19)" text-anchor="middle">6</text><text transform="translate(458.16 1582.83) rotate(352.04)" text-anchor="middle">x</text><text transform="translate(475.32 1579.84) rotate(348.19)" text-anchor="middle">H</text><text transform="translate(489.18 1576.54) rotate(345.04)" text-anchor="middle">i</text><text transform="translate(498.31 1573.92) rotate(342.93)" text-anchor="middle">s</text></g></g>
<g id="labels"><text x="3" y="46.3" font-size="56.5" text-anchor="start" fill="#1a1a1a" stroke="#1a1a1a" stroke-width="0.45" >(a)</text>
<text x="3" y="954" font-size="56.5" text-anchor="start" fill="#1a1a1a" stroke="#1a1a1a" stroke-width="0.45" >(c)</text>
<text x="665.9" y="96.6" font-size="55.4" text-anchor="start" fill="#1a1a1a" stroke="#1a1a1a" stroke-width="0.45" >BamHI (945)</text>
<text x="444.3" y="857.6" font-size="55.5" text-anchor="start" fill="#1a1a1a" stroke="#1a1a1a" stroke-width="0.45" >XhoI (3567)</text>
<text x="670.5" y="1011.4" font-size="55.4" text-anchor="start" fill="#1a1a1a" stroke="#1a1a1a" stroke-width="0.45" >BamHI (945)</text>
<text x="444.3" y="1789.7" font-size="55.5" text-anchor="start" fill="#1a1a1a" stroke="#1a1a1a" stroke-width="0.45" >XhoI (3585)</text>
<text x="976" y="46" font-size="56.5" text-anchor="start" fill="#1a1a1a" stroke="#1a1a1a" stroke-width="0.45" >(b)</text>
<text x="1109.5" y="46" font-size="55.2" text-anchor="start" fill="#1a1a1a" stroke="#1a1a1a" stroke-width="0.45" >bp</text>
<text x="1186.7" y="46.6" font-size="55.2" text-anchor="start" fill="#1a1a1a" stroke="#1a1a1a" stroke-width="0.45" >M</text>
<text x="1260.8" y="46.6" font-size="55.2" text-anchor="start" fill="#1a1a1a" stroke="#1a1a1a" stroke-width="0.45" >P</text>
<text x="976" y="953.2" font-size="56.5" text-anchor="start" fill="#1a1a1a" stroke="#1a1a1a" stroke-width="0.45" >(d)</text>
<text x="1109.5" y="952.5" font-size="55.2" text-anchor="start" fill="#1a1a1a" stroke="#1a1a1a" stroke-width="0.45" >bp</text>
<text x="1186.7" y="952.8" font-size="55.2" text-anchor="start" fill="#1a1a1a" stroke="#1a1a1a" stroke-width="0.45" >M</text>
<text x="1260.8" y="952.8" font-size="55.2" text-anchor="start" fill="#1a1a1a" stroke="#1a1a1a" stroke-width="0.45" >P</text>
<text x="1144.2" y="97.1" font-size="55.2" text-anchor="end" fill="#1a1a1a" stroke="#1a1a1a" stroke-width="0.45" >10000</text>
<text x="1144.2" y="137.1" font-size="55.2" text-anchor="end" fill="#1a1a1a" stroke="#1a1a1a" stroke-width="0.45" >8000</text>
<text x="1144.2" y="182.9" font-size="55.2" text-anchor="end" fill="#1a1a1a" stroke="#1a1a1a" stroke-width="0.45" >5000</text>
<text x="1144.2" y="344" font-size="55.2" text-anchor="end" fill="#1a1a1a" stroke="#1a1a1a" stroke-width="0.45" >2000</text>
<text x="1144.2" y="388.5" font-size="55.2" text-anchor="end" fill="#1a1a1a" stroke="#1a1a1a" stroke-width="0.45" >1600</text>
<text x="1144.2" y="492.6" font-size="55.2" text-anchor="end" fill="#1a1a1a" stroke="#1a1a1a" stroke-width="0.45" >1000</text>
<text x="1144.2" y="564.4" font-size="55.2" text-anchor="end" fill="#1a1a1a" stroke="#1a1a1a" stroke-width="0.45" >700</text>
<text x="1144.2" y="628.9" font-size="55.2" text-anchor="end" fill="#1a1a1a" stroke="#1a1a1a" stroke-width="0.45" >500</text>
<text x="1144.2" y="668.9" font-size="55.2" text-anchor="end" fill="#1a1a1a" stroke="#1a1a1a" stroke-width="0.45" >400</text>
<text x="1144.2" y="711.1" font-size="55.2" text-anchor="end" fill="#1a1a1a" stroke="#1a1a1a" stroke-width="0.45" >300</text>
<text x="1144.2" y="753.3" font-size="55.2" text-anchor="end" fill="#1a1a1a" stroke="#1a1a1a" stroke-width="0.45" >200</text>
<text x="1144.2" y="804.4" font-size="55.2" text-anchor="end" fill="#1a1a1a" stroke="#1a1a1a" stroke-width="0.45" >100</text>
<text x="1144.2" y="1028.9" font-size="55.2" text-anchor="end" fill="#1a1a1a" stroke="#1a1a1a" stroke-width="0.45" >10000</text>
<text x="1144.2" y="1073.4" font-size="55.2" text-anchor="end" fill="#1a1a1a" stroke="#1a1a1a" stroke-width="0.45" >8000</text>
<text x="1144.2" y="1132.9" font-size="55.2" text-anchor="end" fill="#1a1a1a" stroke="#1a1a1a" stroke-width="0.45" >5000</text>
<text x="1144.2" y="1310.6" font-size="55.2" text-anchor="end" fill="#1a1a1a" stroke="#1a1a1a" stroke-width="0.45" >2000</text>
<text x="1144.2" y="1350.7" font-size="55.2" text-anchor="end" fill="#1a1a1a" stroke="#1a1a1a" stroke-width="0.45" >1600</text>
<text x="1144.2" y="1445.6" font-size="55.2" text-anchor="end" fill="#1a1a1a" stroke="#1a1a1a" stroke-width="0.45" >1000</text>
<text x="1144.2" y="1516.7" font-size="55.2" text-anchor="end" fill="#1a1a1a" stroke="#1a1a1a" stroke-width="0.45" >700</text>
<text x="1144.2" y="1567.8" font-size="55.2" text-anchor="end" fill="#1a1a1a" stroke="#1a1a1a" stroke-width="0.45" >500</text>
<text x="1144.2" y="1611.8" font-size="55.2" text-anchor="end" fill="#1a1a1a" stroke="#1a1a1a" stroke-width="0.45" >400</text>
<text x="1144.2" y="1653.3" font-size="55.2" text-anchor="end" fill="#1a1a1a" stroke="#1a1a1a" stroke-width="0.45" >300</text>
<text x="1144.2" y="1694.4" font-size="55.2" text-anchor="end" fill="#1a1a1a" stroke="#1a1a1a" stroke-width="0.45" >200</text>
<text x="1144.2" y="1742.2" font-size="55.2" text-anchor="end" fill="#1a1a1a" stroke="#1a1a1a" stroke-width="0.45" >100</text>
<text x="1388.3" y="309.3" font-size="55.6" text-anchor="start" fill="#1a1a1a" stroke="#1a1a1a" stroke-width="0.45" >2613 bp</text>
<text x="1388.3" y="1228.4" font-size="55.6" text-anchor="start" fill="#1a1a1a" stroke="#1a1a1a" stroke-width="0.45" >2613 bp</text>
<path d="M1336.2 292.9 l12.8 -9.2 v4.8 h29.8 v8.8 h-29.8 v4.8z" fill="#5b9bd5" stroke="#41719c" stroke-width="1"/>
<path d="M1336.2 1213.8 l12.8 -9.2 v4.8 h29.8 v8.8 h-29.8 v4.8z" fill="#5b9bd5" stroke="#41719c" stroke-width="1"/></g>
<g>
<rect x="1156" y="64.5" width="167" height="769.9" fill="#131313"/>
<g clip-path="url(#clipB)">

<rect x="1176" y="70" width="58" height="740" fill="#2a2b2e" opacity="0.18" filter="url(#bl4)"/>
<rect x="1243.5" y="176" width="49.5" height="520" fill="url(#smearB)" filter="url(#blS)"/>
<rect x="1244.5" y="176" width="3" height="470" fill="url(#laneG)" filter="url(#blL)"/>
<rect x="1289" y="176" width="3" height="470" fill="url(#laneG)" filter="url(#blL)"/>
<ellipse cx="1293" cy="641" rx="2.5" ry="1.3" fill="#9a9a9a" opacity="0.7" filter="url(#bl1)"/>
<ellipse cx="1162" cy="260" rx="4" ry="1" fill="#777" opacity="0.5" filter="url(#bl1)"/>

<rect x="1182" y="82.5" width="46.5" height="14" rx="3" fill="#eef1f6" opacity="0.26039999999999996" filter="url(#bl3)"/><path d="M1182 83.5 Q1182 95.5 1186 95.5 Q1205.25 95.5 1224.5 95.5 Q1228.5 95.5 1228.5 83.5" fill="none" stroke="#eef1f6" stroke-width="6.5" stroke-linecap="round" stroke-linejoin="round" opacity="0.279" filter="url(#bl3)"/><path d="M1182 87.1 Q1182 95.5 1186 95.5 Q1205.25 95.5 1224.5 95.5 Q1228.5 95.5 1228.5 87.1" fill="none" stroke="#eef1f6" stroke-width="3.5" stroke-linecap="round" stroke-linejoin="round" opacity="0.527" filter="url(#bl2)"/><path d="M1185 95.5 Q1205.25 95.5 1225.5 95.5" fill="none" stroke="#ffffff" stroke-width="1.5" stroke-linecap="round" stroke-linejoin="round" opacity="0.496" filter="url(#bl1)"/>
<rect x="1182" y="103.5" width="46.5" height="14" rx="3" fill="#eef1f6" opacity="0.2856" filter="url(#bl3)"/><path d="M1182 103.5 Q1182 116.5 1186 116.5 Q1205.25 116.5 1224.5 116.5 Q1228.5 116.5 1228.5 103.5" fill="none" stroke="#eef1f6" stroke-width="6.5" stroke-linecap="round" stroke-linejoin="round" opacity="0.30600000000000005" filter="url(#bl3)"/><path d="M1182 107.4 Q1182 116.5 1186 116.5 Q1205.25 116.5 1224.5 116.5 Q1228.5 116.5 1228.5 107.4" fill="none" stroke="#eef1f6" stroke-width="3.5" stroke-linecap="round" stroke-linejoin="round" opacity="0.5780000000000001" filter="url(#bl2)"/><path d="M1185 116.5 Q1205.25 116.5 1225.5 116.5" fill="none" stroke="#ffffff" stroke-width="1.5" stroke-linecap="round" stroke-linejoin="round" opacity="0.544" filter="url(#bl1)"/>
<rect x="1182" y="164.5" width="46.5" height="15" rx="3" fill="#eef1f6" opacity="0.357" filter="url(#bl3)"/><path d="M1182 164.5 Q1182 178.5 1186 178.5 Q1205.25 178.5 1224.5 178.5 Q1228.5 178.5 1228.5 164.5" fill="none" stroke="#eef1f6" stroke-width="7" stroke-linecap="round" stroke-linejoin="round" opacity="0.3825" filter="url(#bl3)"/><path d="M1182 168.7 Q1182 178.5 1186 178.5 Q1205.25 178.5 1224.5 178.5 Q1228.5 178.5 1228.5 168.7" fill="none" stroke="#eef1f6" stroke-width="4" stroke-linecap="round" stroke-linejoin="round" opacity="0.7224999999999999" filter="url(#bl2)"/><path d="M1185 178.5 Q1205.25 178.5 1225.5 178.5" fill="none" stroke="#ffffff" stroke-width="1.6" stroke-linecap="round" stroke-linejoin="round" opacity="0.68" filter="url(#bl1)"/>
<rect x="1182" y="333.5" width="46.5" height="13" rx="3" fill="#eef1f6" opacity="0.357" filter="url(#bl3)"/><path d="M1182 332.5 Q1182 345.5 1186 345.5 Q1205.25 345.5 1224.5 345.5 Q1228.5 345.5 1228.5 332.5" fill="none" stroke="#eef1f6" stroke-width="6.5" stroke-linecap="round" stroke-linejoin="round" opacity="0.3825" filter="url(#bl3)"/><path d="M1182 336.4 Q1182 345.5 1186 345.5 Q1205.25 345.5 1224.5 345.5 Q1228.5 345.5 1228.5 336.4" fill="none" stroke="#eef1f6" stroke-width="3.5" stroke-linecap="round" stroke-linejoin="round" opacity="0.7224999999999999" filter="url(#bl2)"/><path d="M1185 345.5 Q1205.25 345.5 1225.5 345.5" fill="none" stroke="#ffffff" stroke-width="1.5" stroke-linecap="round" stroke-linejoin="round" opacity="0.68" filter="url(#bl1)"/>
<rect x="1182" y="380" width="46.5" height="13" rx="3" fill="#eef1f6" opacity="0.357" filter="url(#bl3)"/><path d="M1182 379 Q1182 392 1186 392 Q1205.25 392 1224.5 392 Q1228.5 392 1228.5 379" fill="none" stroke="#eef1f6" stroke-width="6.5" stroke-linecap="round" stroke-linejoin="round" opacity="0.3825" filter="url(#bl3)"/><path d="M1182 382.9 Q1182 392 1186 392 Q1205.25 392 1224.5 392 Q1228.5 392 1228.5 382.9" fill="none" stroke="#eef1f6" stroke-width="3.5" stroke-linecap="round" stroke-linejoin="round" opacity="0.7224999999999999" filter="url(#bl2)"/><path d="M1185 392 Q1205.25 392 1225.5 392" fill="none" stroke="#ffffff" stroke-width="1.5" stroke-linecap="round" stroke-linejoin="round" opacity="0.68" filter="url(#bl1)"/>
<rect x="1176.5" y="470.8" width="56" height="21" rx="3" fill="#eef1f6" opacity="0.375" filter="url(#bl4)"/><rect x="1178.5" y="474.8" width="52" height="13" rx="3" fill="#eef1f6" opacity="1.0" filter="url(#bl2)"/><rect x="1180.5" y="478.38" width="48" height="5.85" rx="2.93" fill="#ffffff" opacity="1.0" filter="url(#bl1)"/>
<rect x="1177" y="546.6" width="55" height="16" rx="3" fill="#eef1f6" opacity="0.285" filter="url(#bl4)"/><rect x="1179" y="550.6" width="51" height="8" rx="3" fill="#eef1f6" opacity="0.76" filter="url(#bl2)"/><rect x="1181" y="552.8" width="47" height="3.6" rx="1.8" fill="#ffffff" opacity="0.855" filter="url(#bl1)"/>
<rect x="1177" y="610.75" width="55" height="16.5" rx="3" fill="#eef1f6" opacity="0.315" filter="url(#bl4)"/><rect x="1179" y="614.75" width="51" height="8.5" rx="3" fill="#eef1f6" opacity="0.8400000000000001" filter="url(#bl2)"/><rect x="1181" y="617.09" width="47" height="3.83" rx="1.91" fill="#ffffff" opacity="0.9450000000000001" filter="url(#bl1)"/>
<rect x="1177" y="644.3" width="55" height="16" rx="3" fill="#eef1f6" opacity="0.285" filter="url(#bl4)"/><rect x="1179" y="648.3" width="51" height="8" rx="3" fill="#eef1f6" opacity="0.76" filter="url(#bl2)"/><rect x="1181" y="650.5" width="47" height="3.6" rx="1.8" fill="#ffffff" opacity="0.855" filter="url(#bl1)"/>
<rect x="1177" y="688.85" width="55" height="15.5" rx="3" fill="#eef1f6" opacity="0.20400000000000001" filter="url(#bl4)"/><rect x="1179" y="692.85" width="51" height="7.5" rx="3" fill="#eef1f6" opacity="0.544" filter="url(#bl2)"/><rect x="1181" y="694.91" width="47" height="3.38" rx="1.69" fill="#ffffff" opacity="0.6120000000000001" filter="url(#bl1)"/>
<rect x="1175.5" y="728.5" width="56.5" height="17" rx="3" fill="#eef1f6" opacity="0.255" filter="url(#bl4)"/><rect x="1177.5" y="732.5" width="52.5" height="9" rx="3" fill="#eef1f6" opacity="0.68" filter="url(#bl2)"/><rect x="1179.5" y="734.98" width="48.5" height="4.05" rx="2.02" fill="#ffffff" opacity="0.765" filter="url(#bl1)"/>
<rect x="1171" y="776.6" width="61.5" height="22" rx="3" fill="#eef1f6" opacity="0.186" filter="url(#bl4)"/><rect x="1173" y="780.6" width="57.5" height="14" rx="3" fill="#eef1f6" opacity="0.496" filter="url(#bl2)"/><rect x="1175" y="784.45" width="53.5" height="6.3" rx="3" fill="#ffffff" opacity="0.558" filter="url(#bl1)"/>
<rect x="1245" y="184.5" width="46.5" height="4" rx="2" fill="#eef1f6" opacity="0.294" filter="url(#bl3)"/><path d="M1245 171.5 Q1245 187.5 1249 187.5 Q1268.25 183.5 1287.5 187.5 Q1291.5 187.5 1291.5 171.5" fill="none" stroke="#eef1f6" stroke-width="6.5" stroke-linecap="round" stroke-linejoin="round" opacity="0.315" filter="url(#bl3)"/><path d="M1245 176.3 Q1245 187.5 1249 187.5 Q1268.25 183.5 1287.5 187.5 Q1291.5 187.5 1291.5 176.3" fill="none" stroke="#eef1f6" stroke-width="3.5" stroke-linecap="round" stroke-linejoin="round" opacity="0.595" filter="url(#bl2)"/><path d="M1248 187.5 Q1268.25 183.5 1288.5 187.5" fill="none" stroke="#ffffff" stroke-width="1.5" stroke-linecap="round" stroke-linejoin="round" opacity="0.5599999999999999" filter="url(#bl1)"/>
<rect x="1245" y="281.8" width="46.5" height="16" rx="3" fill="#eef1f6" opacity="0.39899999999999997" filter="url(#bl3)"/><path d="M1245 274.8 Q1245 296.8 1249 296.8 Q1268.25 296.8 1287.5 296.8 Q1291.5 296.8 1291.5 274.8" fill="none" stroke="#eef1f6" stroke-width="6.5" stroke-linecap="round" stroke-linejoin="round" opacity="0.4275" filter="url(#bl3)"/><path d="M1245 281.4 Q1245 296.8 1249 296.8 Q1268.25 296.8 1287.5 296.8 Q1291.5 296.8 1291.5 281.4" fill="none" stroke="#eef1f6" stroke-width="3.5" stroke-linecap="round" stroke-linejoin="round" opacity="0.8075" filter="url(#bl2)"/><path d="M1248 296.8 Q1268.25 296.8 1288.5 296.8" fill="none" stroke="#ffffff" stroke-width="1.5" stroke-linecap="round" stroke-linejoin="round" opacity="0.76" filter="url(#bl1)"/>
</g></g>
<g>
<rect x="1155" y="968.3" width="168" height="791.7" fill="#1f1f21"/>
<g clip-path="url(#clipD)">

<rect x="1163" y="1000" width="58" height="750" fill="#3a3b3f" opacity="0.22" filter="url(#bl4)"/>
<rect x="1229.5" y="1108" width="50" height="560" fill="url(#smearD)" filter="url(#blS)"/>
<rect x="1231" y="1112" width="3" height="420" fill="url(#laneG)" filter="url(#blL)"/>
<rect x="1275.5" y="1112" width="3" height="420" fill="url(#laneG)" filter="url(#blL)"/>
<ellipse cx="1212" cy="1253" rx="4" ry="1.2" fill="#8a8a8a" opacity="0.55" filter="url(#bl1)"/>

<rect x="1171" y="1021" width="47.5" height="22" rx="3" fill="#eef1f6" opacity="0.231" filter="url(#bl3)"/><path d="M1171 1018 Q1171 1042 1175 1042 Q1194.75 1042 1214.5 1042 Q1218.5 1042 1218.5 1018" fill="none" stroke="#eef1f6" stroke-width="6.5" stroke-linecap="round" stroke-linejoin="round" opacity="0.24750000000000003" filter="url(#bl3)"/><path d="M1171 1025.2 Q1171 1042 1175 1042 Q1194.75 1042 1214.5 1042 Q1218.5 1042 1218.5 1025.2" fill="none" stroke="#eef1f6" stroke-width="3.5" stroke-linecap="round" stroke-linejoin="round" opacity="0.4675" filter="url(#bl2)"/><path d="M1174 1042 Q1194.75 1042 1215.5 1042" fill="none" stroke="#ffffff" stroke-width="1.5" stroke-linecap="round" stroke-linejoin="round" opacity="0.44000000000000006" filter="url(#bl1)"/>
<rect x="1171" y="1046" width="47.5" height="18" rx="3" fill="#eef1f6" opacity="0.294" filter="url(#bl3)"/><path d="M1171 1029 Q1171 1063 1175 1063 Q1194.75 1063 1214.5 1063 Q1218.5 1063 1218.5 1029" fill="none" stroke="#eef1f6" stroke-width="6.5" stroke-linecap="round" stroke-linejoin="round" opacity="0.315" filter="url(#bl3)"/><path d="M1171 1039.2 Q1171 1063 1175 1063 Q1194.75 1063 1214.5 1063 Q1218.5 1063 1218.5 1039.2" fill="none" stroke="#eef1f6" stroke-width="3.5" stroke-linecap="round" stroke-linejoin="round" opacity="0.595" filter="url(#bl2)"/><path d="M1174 1063 Q1194.75 1063 1215.5 1063" fill="none" stroke="#ffffff" stroke-width="1.5" stroke-linecap="round" stroke-linejoin="round" opacity="0.5599999999999999" filter="url(#bl1)"/>
<rect x="1171" y="1106.5" width="47.5" height="24" rx="3" fill="#eef1f6" opacity="0.3276" filter="url(#bl3)"/><path d="M1171 1101.5 Q1171 1129.5 1175 1129.5 Q1194.75 1129.5 1214.5 1129.5 Q1218.5 1129.5 1218.5 1101.5" fill="none" stroke="#eef1f6" stroke-width="7" stroke-linecap="round" stroke-linejoin="round" opacity="0.35100000000000003" filter="url(#bl3)"/><path d="M1171 1109.9 Q1171 1129.5 1175 1129.5 Q1194.75 1129.5 1214.5 1129.5 Q1218.5 1129.5 1218.5 1109.9" fill="none" stroke="#eef1f6" stroke-width="4" stroke-linecap="round" stroke-linejoin="round" opacity="0.663" filter="url(#bl2)"/><path d="M1174 1129.5 Q1194.75 1129.5 1215.5 1129.5" fill="none" stroke="#ffffff" stroke-width="1.6" stroke-linecap="round" stroke-linejoin="round" opacity="0.6240000000000001" filter="url(#bl1)"/>
<rect x="1169" y="1282" width="48.5" height="22" rx="3" fill="#eef1f6" opacity="0.39899999999999997" filter="url(#bl3)"/><path d="M1169 1279 Q1169 1303 1173 1303 Q1193.25 1298 1213.5 1303 Q1217.5 1303 1217.5 1279" fill="none" stroke="#eef1f6" stroke-width="6.5" stroke-linecap="round" stroke-linejoin="round" opacity="0.4275" filter="url(#bl3)"/><path d="M1169 1286.2 Q1169 1303 1173 1303 Q1193.25 1298 1213.5 1303 Q1217.5 1303 1217.5 1286.2" fill="none" stroke="#eef1f6" stroke-width="3.5" stroke-linecap="round" stroke-linejoin="round" opacity="0.8075" filter="url(#bl2)"/><path d="M1172 1303 Q1193.25 1298 1214.5 1303" fill="none" stroke="#ffffff" stroke-width="1.5" stroke-linecap="round" stroke-linejoin="round" opacity="0.76" filter="url(#bl1)"/>
<rect x="1169" y="1329.5" width="48.5" height="20" rx="3" fill="#eef1f6" opacity="0.39899999999999997" filter="url(#bl3)"/><path d="M1169 1324.5 Q1169 1348.5 1173 1348.5 Q1193.25 1343.5 1213.5 1348.5 Q1217.5 1348.5 1217.5 1324.5" fill="none" stroke="#eef1f6" stroke-width="6.5" stroke-linecap="round" stroke-linejoin="round" opacity="0.4275" filter="url(#bl3)"/><path d="M1169 1331.7 Q1169 1348.5 1173 1348.5 Q1193.25 1343.5 1213.5 1348.5 Q1217.5 1348.5 1217.5 1331.7" fill="none" stroke="#eef1f6" stroke-width="3.5" stroke-linecap="round" stroke-linejoin="round" opacity="0.8075" filter="url(#bl2)"/><path d="M1172 1348.5 Q1193.25 1343.5 1214.5 1348.5" fill="none" stroke="#ffffff" stroke-width="1.5" stroke-linecap="round" stroke-linejoin="round" opacity="0.76" filter="url(#bl1)"/>
<rect x="1166.5" y="1425" width="50.5" height="12" rx="3" fill="#eef1f6" opacity="0.525" filter="url(#bl3)"/><path d="M1166.5 1428 Q1166.5 1436 1170.5 1436 Q1191.75 1431 1213 1436 Q1217 1436 1217 1428" fill="none" stroke="#eef1f6" stroke-width="14" stroke-linecap="round" stroke-linejoin="round" opacity="0.5625" filter="url(#bl3)"/><path d="M1166.5 1430.4 Q1166.5 1436 1170.5 1436 Q1191.75 1431 1213 1436 Q1217 1436 1217 1430.4" fill="none" stroke="#eef1f6" stroke-width="11" stroke-linecap="round" stroke-linejoin="round" opacity="1.0625" filter="url(#bl2)"/><path d="M1169.5 1436 Q1191.75 1431 1214 1436" fill="none" stroke="#ffffff" stroke-width="4.4" stroke-linecap="round" stroke-linejoin="round" opacity="1.0" filter="url(#bl1)"/>
<rect x="1164.5" y="1501.6" width="53.5" height="16" rx="3" fill="#eef1f6" opacity="0.285" filter="url(#bl4)"/><rect x="1166.5" y="1505.6" width="49.5" height="8" rx="3" fill="#eef1f6" opacity="0.76" filter="url(#bl2)"/><rect x="1168.5" y="1507.8" width="45.5" height="3.6" rx="1.8" fill="#ffffff" opacity="0.855" filter="url(#bl1)"/>
<rect x="1164.5" y="1560.9" width="53.5" height="16" rx="3" fill="#eef1f6" opacity="0.3" filter="url(#bl4)"/><rect x="1166.5" y="1564.9" width="49.5" height="8" rx="3" fill="#eef1f6" opacity="0.8" filter="url(#bl2)"/><rect x="1168.5" y="1567.1" width="45.5" height="3.6" rx="1.8" fill="#ffffff" opacity="0.9" filter="url(#bl1)"/>
<rect x="1164" y="1590.6" width="54" height="16" rx="3" fill="#eef1f6" opacity="0.27" filter="url(#bl4)"/><rect x="1166" y="1594.6" width="50" height="8" rx="3" fill="#eef1f6" opacity="0.7200000000000001" filter="url(#bl2)"/><rect x="1168" y="1596.8" width="46" height="3.6" rx="1.8" fill="#ffffff" opacity="0.81" filter="url(#bl1)"/>
<rect x="1163.5" y="1632.25" width="54.5" height="15.5" rx="3" fill="#eef1f6" opacity="0.21" filter="url(#bl4)"/><rect x="1165.5" y="1636.25" width="50.5" height="7.5" rx="3" fill="#eef1f6" opacity="0.5599999999999999" filter="url(#bl2)"/><rect x="1167.5" y="1638.31" width="46.5" height="3.38" rx="1.69" fill="#ffffff" opacity="0.63" filter="url(#bl1)"/>
<rect x="1162" y="1668.6" width="56" height="17" rx="3" fill="#eef1f6" opacity="0.285" filter="url(#bl4)"/><rect x="1164" y="1672.6" width="52" height="9" rx="3" fill="#eef1f6" opacity="0.76" filter="url(#bl2)"/><rect x="1166" y="1675.07" width="48" height="4.05" rx="2.02" fill="#ffffff" opacity="0.855" filter="url(#bl1)"/>
<rect x="1159.5" y="1711.3" width="59.5" height="22" rx="3" fill="#eef1f6" opacity="0.20400000000000001" filter="url(#bl4)"/><rect x="1161.5" y="1715.3" width="55.5" height="14" rx="3" fill="#eef1f6" opacity="0.544" filter="url(#bl2)"/><rect x="1163.5" y="1719.15" width="51.5" height="6.3" rx="3" fill="#ffffff" opacity="0.6120000000000001" filter="url(#bl1)"/>
<rect x="1231.5" y="1108" width="46.5" height="5" rx="2.5" fill="#eef1f6" opacity="0.42" filter="url(#bl3)"/><path d="M1231.5 1116 Q1231.5 1112 1235.5 1112 Q1254.75 1109 1274 1112 Q1278 1112 1278 1116" fill="none" stroke="#eef1f6" stroke-width="6.6" stroke-linecap="round" stroke-linejoin="round" opacity="0.45" filter="url(#bl3)"/><path d="M1231.5 1114.8 Q1231.5 1112 1235.5 1112 Q1254.75 1109 1274 1112 Q1278 1112 1278 1114.8" fill="none" stroke="#eef1f6" stroke-width="3.6" stroke-linecap="round" stroke-linejoin="round" opacity="0.85" filter="url(#bl2)"/><path d="M1234.5 1112 Q1254.75 1109 1275 1112" fill="none" stroke="#ffffff" stroke-width="1.5" stroke-linecap="round" stroke-linejoin="round" opacity="0.8" filter="url(#bl1)"/>
<rect x="1228.5" y="1209.2" width="52" height="14" rx="3" fill="#eef1f6" opacity="0.315" filter="url(#bl4)"/><rect x="1230.5" y="1213.2" width="48" height="6" rx="3" fill="#eef1f6" opacity="0.8400000000000001" filter="url(#bl2)"/><rect x="1232.5" y="1214.85" width="44" height="2.7" rx="1.35" fill="#ffffff" opacity="0.9450000000000001" filter="url(#bl1)"/>
</g></g>
</g>
</svg>
</body></html>
